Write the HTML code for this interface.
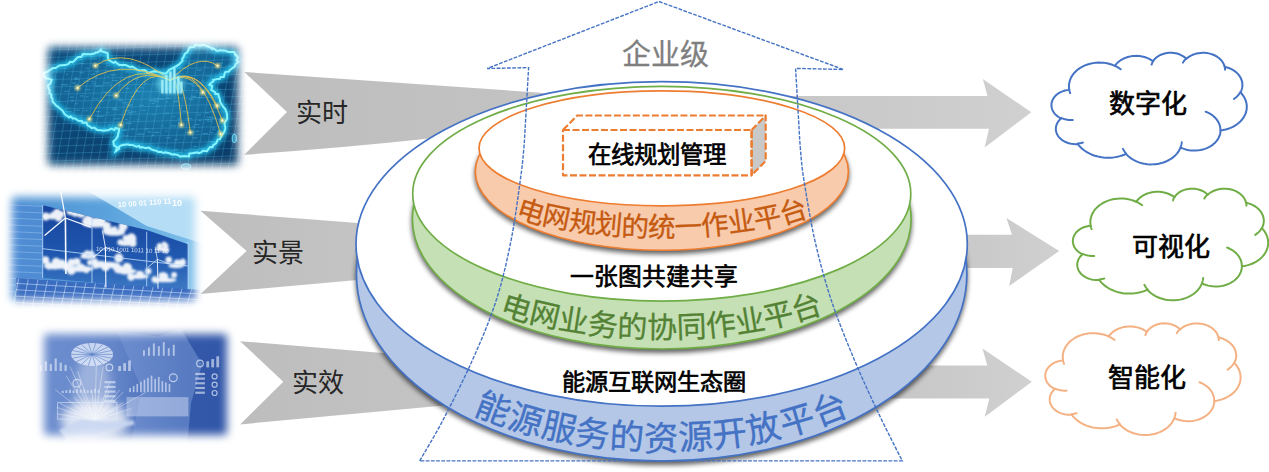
<!DOCTYPE html>
<html lang="zh-CN"><head><meta charset="utf-8"><title>diagram</title>
<style>
html,body{margin:0;padding:0;background:#fff;}
body{width:1269px;height:472px;overflow:hidden;position:relative;font-family:"Liberation Sans",sans-serif;}
svg{position:absolute;left:0;top:0;display:block;}
text{font-family:"Liberation Sans",sans-serif;}
.b{stroke:#000;stroke-width:.68px;stroke-linejoin:round;}
</style></head><body>
<svg width="1269" height="472" viewBox="0 0 1269 472">
<defs>
<filter id="sh" x="-10%" y="-10%" width="120%" height="130%"><feGaussianBlur stdDeviation="2.8"/></filter>
<filter id="feather" x="-10%" y="-10%" width="120%" height="120%"><feGaussianBlur stdDeviation="3.2"/></filter>
<linearGradient id="gl" x1="0" x2="1" y1="0" y2="0"><stop offset="0" stop-color="#bdbdbd"/><stop offset="1" stop-color="#c6c6c6"/></linearGradient>
<linearGradient id="gr" x1="0" x2="1" y1="0" y2="0"><stop offset="0" stop-color="#c4c4c4"/><stop offset="1" stop-color="#d0d0d0"/></linearGradient>
</defs>

<defs>
<filter id="f5" x="-10%" y="-10%" width="120%" height="120%"><feGaussianBlur stdDeviation="4"/></filter>
<filter id="b0" x="-10%" y="-10%" width="120%" height="120%"><feGaussianBlur stdDeviation=".5"/></filter>
<filter id="b1" x="-20%" y="-20%" width="140%" height="140%"><feGaussianBlur stdDeviation="1.2"/></filter>
<filter id="b2" x="-30%" y="-30%" width="160%" height="160%"><feGaussianBlur stdDeviation="2.5"/></filter>
<filter id="b4" x="-30%" y="-30%" width="160%" height="160%"><feGaussianBlur stdDeviation="5"/></filter>
<mask id="m1"><rect x="48" y="47" width="190" height="118" rx="3" fill="#fff" filter="url(#f5)"/></mask>
<mask id="m2"><rect x="12" y="197" width="183" height="103" rx="3" fill="#fff" filter="url(#f5)"/></mask>
<mask id="m3"><rect x="44" y="334" width="183" height="101" rx="3" fill="#fff" filter="url(#f5)"/></mask>
<linearGradient id="p1bg" x1="0" y1="0" x2="1" y2="1"><stop offset="0" stop-color="#0d4f80"/><stop offset=".5" stop-color="#0c4574"/><stop offset="1" stop-color="#0a3a66"/></linearGradient>
<radialGradient id="p1in" cx=".55" cy=".45" r=".6"><stop offset="0" stop-color="#1c80b0"/><stop offset="1" stop-color="#105a8a"/></radialGradient>
<linearGradient id="p2bg" x1="0" y1="0" x2="1" y2="0"><stop offset="0" stop-color="#4c8ed2"/><stop offset=".5" stop-color="#5aa2dc"/><stop offset="1" stop-color="#86c6ee"/></linearGradient>
<linearGradient id="p2sky" x1="0" y1="0" x2="0" y2="1"><stop offset="0" stop-color="#17449c"/><stop offset=".6" stop-color="#2058b0"/><stop offset="1" stop-color="#3f7cc6"/></linearGradient>
<linearGradient id="p3bg" x1="0" y1="0" x2="1" y2="0"><stop offset="0" stop-color="#6f90d0"/><stop offset=".4" stop-color="#6485c8"/><stop offset=".72" stop-color="#3c61b0"/><stop offset="1" stop-color="#3358a8"/></linearGradient>
</defs>
<g mask="url(#m1)">
<rect x="36" y="36" width="214" height="140" fill="url(#p1bg)"/>
<path d="M43.6 73.2 L48.1 71.4 L53.0 68.0 L55.5 68.1 L59.6 65.5 L65.0 65.1 L68.1 64.1 L70.0 61.8 L72.5 62.2 L74.6 60.4 L78.0 57.1 L81.2 57.0 L83.0 54.0 L87.9 54.2 L91.0 54.3 L94.5 53.5 L95.6 52.6 L97.7 52.5 L100.8 49.8 L101.3 51.1 L106.0 52.6 L107.6 53.3 L107.8 55.3 L107.8 57.6 L108.9 60.2 L111.2 61.5 L113.6 62.8 L115.1 61.8 L119.1 64.9 L122.7 64.9 L125.6 64.9 L129.9 66.9 L132.4 66.5 L137.9 70.0 L139.8 70.6 L144.6 70.1 L148.2 72.9 L153.7 71.3 L157.0 71.6 L161.2 72.7 L164.7 73.7 L166.6 73.0 L169.1 69.9 L171.8 68.5 L172.7 68.2 L175.8 66.2 L176.3 66.2 L179.0 64.4 L182.5 60.9 L182.3 58.8 L183.8 56.5 L184.6 54.1 L187.6 51.8 L188.2 50.4 L189.6 47.3 L194.1 46.9 L195.4 44.6 L197.5 45.1 L199.5 45.7 L204.1 44.7 L207.0 46.3 L209.6 47.0 L212.2 49.0 L212.8 48.2 L217.5 51.1 L219.4 50.2 L223.2 50.4 L225.6 50.8 L228.6 52.1 L231.4 52.0 L234.2 52.1 L235.3 55.1 L236.1 54.8 L237.9 57.3 L236.6 60.2 L238.4 61.7 L235.4 64.2 L234.8 66.5 L232.9 67.8 L229.5 70.5 L229.0 71.5 L225.2 72.1 L224.6 73.8 L223.8 77.0 L220.7 77.0 L219.9 78.9 L217.4 79.1 L213.1 80.0 L213.4 81.4 L210.7 83.3 L209.4 84.7 L212.2 86.0 L211.3 90.1 L215.1 92.2 L215.4 94.1 L218.2 94.1 L219.2 97.7 L220.0 99.4 L220.0 101.4 L220.8 103.1 L223.2 106.7 L225.3 109.0 L227.0 113.7 L227.1 117.2 L227.0 119.3 L224.7 122.7 L224.6 124.5 L225.4 128.1 L224.3 132.2 L223.3 133.0 L220.9 136.9 L220.0 139.2 L217.7 139.6 L216.2 143.2 L213.2 145.1 L212.7 147.1 L210.0 147.0 L207.0 151.2 L203.0 150.7 L201.1 152.3 L199.0 153.2 L197.0 152.4 L192.1 153.2 L189.3 153.6 L189.1 156.4 L184.3 156.1 L182.4 156.3 L180.1 156.5 L178.2 155.1 L174.7 154.3 L171.5 154.4 L170.1 153.4 L165.5 152.4 L163.3 153.0 L161.4 151.9 L158.5 152.1 L155.5 150.4 L153.7 150.3 L151.5 149.3 L148.7 147.6 L145.9 148.3 L141.7 147.1 L140.2 147.8 L139.1 146.0 L136.5 146.6 L132.3 144.9 L129.5 145.1 L128.4 144.5 L126.8 144.5 L124.7 144.8 L121.0 145.5 L119.0 146.7 L119.2 148.8 L115.6 151.3 L117.0 147.5 L113.9 145.4 L113.3 141.4 L115.9 139.2 L117.7 136.3 L118.4 132.7 L118.8 132.0 L119.2 128.9 L119.8 129.2 L115.5 128.0 L114.3 129.9 L111.0 128.6 L108.5 130.3 L107.4 130.2 L103.9 130.7 L100.9 130.3 L97.2 130.0 L96.6 129.3 L94.0 127.6 L91.9 128.2 L89.9 126.6 L87.4 125.4 L86.5 122.6 L82.4 122.7 L82.1 121.1 L78.4 120.7 L75.2 118.5 L72.8 118.4 L70.6 116.4 L69.2 117.4 L66.1 115.2 L64.5 114.1 L62.9 111.1 L60.0 108.4 L58.7 107.4 L55.9 105.4 L54.8 104.0 L52.9 102.1 L52.3 98.6 L51.3 97.2 L51.2 94.5 L49.3 93.0 L49.8 90.2 L49.0 89.7 L47.8 85.7 L48.2 85.1 L50.3 83.7 L51.8 79.8 L48.0 78.6 L46.0 78.5 L45.9 77.7 L44.1 76.5 L44.0 74.1 Z" fill="url(#p1in)"/>
<path d="M13.2 36 L-10.8 176 M21.4 36 L-2.6 176 M29.6 36 L5.6 176 M37.8 36 L13.8 176 M46.0 36 L22.0 176 M54.2 36 L30.2 176 M62.4 36 L38.4 176 M70.6 36 L46.6 176 M78.8 36 L54.8 176 M87.0 36 L63.0 176 M95.2 36 L71.2 176 M103.4 36 L79.4 176 M111.6 36 L87.6 176 M119.8 36 L95.8 176 M128.0 36 L104.0 176 M136.2 36 L112.2 176 M144.4 36 L120.4 176 M152.6 36 L128.6 176 M160.8 36 L136.8 176 M169.0 36 L145.0 176 M177.2 36 L153.2 176 M185.4 36 L161.4 176 M193.6 36 L169.6 176 M201.8 36 L177.8 176 M210.0 36 L186.0 176 M218.2 36 L194.2 176 M226.4 36 L202.4 176 M234.6 36 L210.6 176 M242.8 36 L218.8 176 M251.0 36 L227.0 176 M259.2 36 L235.2 176 M267.4 36 L243.4 176 M275.6 36 L251.6 176 M283.8 36 L259.8 176 M292.0 36 L268.0 176 M300.2 36 L276.2 176 M308.4 36 L284.4 176 M316.6 36 L292.6 176 M36 43.0 L250 37.0 M36 50.4 L250 44.4 M36 57.8 L250 51.8 M36 65.2 L250 59.2 M36 72.6 L250 66.6 M36 80.0 L250 74.0 M36 87.4 L250 81.4 M36 94.8 L250 88.8 M36 102.2 L250 96.2 M36 109.6 L250 103.6 M36 117.0 L250 111.0 M36 124.4 L250 118.4 M36 131.8 L250 125.8 M36 139.2 L250 133.2 M36 146.6 L250 140.6 M36 154.0 L250 148.0 M36 161.4 L250 155.4 M36 168.8 L250 162.8 M36 176.2 L250 170.2 M36 183.6 L250 177.6" stroke="#4fb4e0" stroke-opacity=".42" stroke-width=".7" fill="none"/>
<path d="M187.6 64.0h2.5 M205.9 85.6h3.8 M161.6 125.9h2.0 M118.6 100.8h4.4 M96.8 116.4h6.8 M128.4 112.2h2.6 M108.1 124.9h2.6 M215.3 150.4h2.5 M224.7 94.3h5.9 M192.5 86.0h5.4 M174.5 139.6h3.3 M192.0 155.9h5.4 M153.8 66.9h4.5 M121.6 130.4h5.4 M159.1 74.1h5.2 M170.4 73.8h6.4 M174.7 67.9h6.7 M84.7 89.8h5.6 M164.6 113.3h5.2 M140.1 87.8h2.9 M72.0 130.2h5.8 M155.0 132.7h3.8 M106.5 95.3h6.4 M67.4 108.0h3.2 M194.6 92.2h3.7 M130.6 111.9h5.9 M121.8 143.9h2.6 M107.3 65.5h2.6 M196.3 131.4h2.9 M93.1 98.7h5.7 M202.8 133.6h5.0 M85.6 96.8h3.0 M152.3 114.7h3.0 M103.8 137.1h2.2 M200.6 148.6h6.7 M127.1 113.0h4.9 M170.9 157.6h5.4 M112.4 145.3h4.4 M165.2 131.3h2.0 M194.8 124.5h4.5 M151.6 103.4h3.0 M152.7 58.9h4.5 M173.0 101.6h4.8 M227.8 148.7h2.7 M198.7 120.4h2.3 M123.0 79.5h2.4 M154.3 152.6h3.6 M212.3 127.9h2.7 M210.2 118.1h6.6 M185.3 132.7h3.7 M201.2 152.8h6.3 M136.5 134.5h4.4 M79.1 59.5h2.4 M95.1 71.9h4.5 M182.4 111.4h4.1 M173.6 87.0h4.3 M192.5 97.2h2.9 M217.4 130.6h3.8 M124.9 110.6h5.0 M99.2 55.3h3.0 M197.1 70.1h4.3 M94.2 77.0h2.9 M130.7 72.7h2.1 M79.3 72.7h4.5 M70.5 57.4h4.2 M131.4 128.9h2.3 M130.6 96.6h2.1 M229.0 78.0h2.5 M143.1 72.3h5.1 M120.6 68.0h2.3 M187.3 83.9h5.9 M141.4 153.0h3.5 M103.7 82.9h6.1 M170.1 91.2h2.5 M179.4 156.8h5.0 M60.6 58.2h2.5 M89.8 58.8h2.3 M174.5 149.5h3.0 M230.4 105.1h6.0 M220.5 153.7h2.2 M113.3 118.7h6.7 M75.4 85.8h6.2 M80.1 95.9h3.7 M179.0 152.5h2.9 M189.5 132.1h6.2 M156.8 152.0h3.8 M132.6 79.1h5.9 M144.1 83.3h2.8 M186.1 118.6h5.6 M127.7 106.1h2.8 M184.4 57.4h4.3 M192.7 126.1h2.5 M101.5 143.6h5.2 M213.7 146.6h4.2 M217.0 132.0h3.7 M124.8 62.6h4.0 M227.2 66.0h4.8 M79.3 63.5h5.2 M102.1 60.1h2.8 M172.8 116.5h2.1 M100.2 156.6h3.1 M158.4 99.1h5.9 M165.8 137.8h4.7 M92.9 73.6h2.4 M204.5 66.8h2.1 M229.1 75.9h6.5 M75.0 103.8h3.1 M205.2 119.6h5.2 M193.2 146.5h3.7 M165.5 101.8h2.6 M206.2 117.4h6.1 M96.0 111.6h4.3 M187.4 63.1h3.7 M144.8 62.5h4.8 M188.7 99.4h5.2 M166.0 77.5h3.8 M234.3 90.2h4.2 M74.7 77.9h2.8 M222.9 131.3h6.4 M232.7 119.3h6.7 M153.8 99.0h6.7 M218.0 154.7h4.4 M195.4 97.7h7.0 M221.1 85.7h6.7 M92.3 65.1h5.6 M111.5 109.5h5.2 M67.1 133.2h3.4 M135.7 91.2h5.7 M190.7 85.2h2.5 M112.4 98.2h2.4 M86.8 135.1h5.5 M230.9 157.9h6.4 M125.2 71.9h3.6 M141.1 110.2h4.7 M122.9 144.5h3.4 M141.1 148.1h6.0 M112.0 80.5h6.0 M61.8 68.8h4.7 M153.8 72.4h2.3 M95.7 135.8h4.3 M231.4 137.5h6.9 M66.1 74.4h2.1 M135.7 90.5h2.3 M155.6 64.9h3.6 M103.3 139.2h4.1 M105.6 59.6h4.1 M169.8 125.9h6.6 M201.5 81.0h2.7 M192.7 137.9h4.5 M205.4 112.9h3.4 M89.5 56.8h5.2 M217.0 150.1h4.3 M176.5 152.5h6.1 M165.5 98.5h4.6 M89.9 74.2h5.4 M233.6 112.4h4.0 M121.6 102.8h6.0 M139.2 155.7h2.8 M115.1 109.8h4.1 M208.9 141.9h6.7 M167.2 58.2h4.9 M156.2 106.2h3.4 M184.1 150.7h2.5 M177.0 94.0h4.6 M216.7 155.8h5.2 M94.1 151.7h2.9 M127.1 142.0h3.6 M107.4 154.7h6.7 M115.5 96.2h3.4 M83.0 81.3h6.9 M73.9 79.1h3.0 M73.9 110.3h5.7 M206.7 121.3h6.1 M60.9 84.6h6.8 M72.1 83.1h4.4 M106.9 112.3h2.2 M101.3 155.5h2.7 M218.5 73.7h7.0 M178.1 122.9h2.7 M69.6 134.7h2.9 M93.2 141.4h6.4 M68.5 155.9h4.7 M126.9 66.2h3.9 M232.8 84.5h2.7 M85.4 68.3h3.8 M220.1 63.1h3.0 M224.4 159.7h6.9 M103.0 92.2h6.8 M144.9 128.9h3.6 M63.7 91.3h5.7 M196.8 114.7h4.3 M154.2 101.4h4.7 M205.8 76.0h5.0 M223.2 144.1h2.9 M228.6 143.2h2.8 M106.5 76.2h2.3 M231.2 98.0h6.4 M80.0 56.5h6.3 M199.0 159.1h5.4 M151.9 135.4h2.5 M154.6 101.3h2.7 M165.1 88.9h4.5 M125.4 88.4h3.8 M165.2 158.0h6.7 M210.9 142.7h3.4 M230.9 83.3h2.6 M147.6 131.9h3.7 M172.9 84.7h6.8 M139.3 105.2h4.7 M213.1 158.6h4.6 M137.3 119.9h2.3 M134.5 144.0h5.9 M70.4 144.7h3.9 M231.7 93.5h3.1 M156.0 147.8h4.2 M211.8 129.7h3.8 M112.6 108.1h4.0 M125.2 123.4h6.4 M162.3 70.4h3.1 M124.9 119.5h2.7 M74.3 88.7h3.4 M65.2 111.6h6.6 M153.5 132.4h6.1 M206.6 150.9h4.2 M179.4 67.7h6.4 M126.2 104.9h6.5 M110.2 74.9h6.1 M164.8 63.9h2.1 M121.5 55.8h6.2 M92.1 83.8h3.9 M149.6 100.4h5.1 M175.5 100.8h2.5 M231.3 127.6h2.4 M137.3 134.1h7.0 M71.6 56.0h4.4 M133.9 148.9h6.1 M118.0 99.0h4.9 M214.7 76.2h4.0 M75.5 122.3h2.1 M223.6 110.0h4.9 M74.9 79.4h4.3 M210.0 111.6h3.4 M231.9 124.5h4.6 M95.4 86.3h6.5 M83.3 110.8h5.1 M122.1 135.7h6.5 M210.1 132.5h3.0 M70.5 100.4h3.6 M93.9 146.5h3.1 M204.0 153.5h2.6 M219.9 96.7h3.1 M92.6 59.0h4.5 M127.3 144.4h6.2 M70.0 97.1h3.9 M91.1 81.3h3.3 M181.5 90.7h2.6 M98.6 101.4h4.8 M103.0 128.5h3.1 M177.4 119.0h2.9 M191.4 96.4h4.7" stroke="#59c8f0" stroke-opacity=".35" stroke-width="1.1" fill="none" clip-path="url(#cc)"/>
<clipPath id="cc"><path d="M43.6 73.2 L48.1 71.4 L53.0 68.0 L55.5 68.1 L59.6 65.5 L65.0 65.1 L68.1 64.1 L70.0 61.8 L72.5 62.2 L74.6 60.4 L78.0 57.1 L81.2 57.0 L83.0 54.0 L87.9 54.2 L91.0 54.3 L94.5 53.5 L95.6 52.6 L97.7 52.5 L100.8 49.8 L101.3 51.1 L106.0 52.6 L107.6 53.3 L107.8 55.3 L107.8 57.6 L108.9 60.2 L111.2 61.5 L113.6 62.8 L115.1 61.8 L119.1 64.9 L122.7 64.9 L125.6 64.9 L129.9 66.9 L132.4 66.5 L137.9 70.0 L139.8 70.6 L144.6 70.1 L148.2 72.9 L153.7 71.3 L157.0 71.6 L161.2 72.7 L164.7 73.7 L166.6 73.0 L169.1 69.9 L171.8 68.5 L172.7 68.2 L175.8 66.2 L176.3 66.2 L179.0 64.4 L182.5 60.9 L182.3 58.8 L183.8 56.5 L184.6 54.1 L187.6 51.8 L188.2 50.4 L189.6 47.3 L194.1 46.9 L195.4 44.6 L197.5 45.1 L199.5 45.7 L204.1 44.7 L207.0 46.3 L209.6 47.0 L212.2 49.0 L212.8 48.2 L217.5 51.1 L219.4 50.2 L223.2 50.4 L225.6 50.8 L228.6 52.1 L231.4 52.0 L234.2 52.1 L235.3 55.1 L236.1 54.8 L237.9 57.3 L236.6 60.2 L238.4 61.7 L235.4 64.2 L234.8 66.5 L232.9 67.8 L229.5 70.5 L229.0 71.5 L225.2 72.1 L224.6 73.8 L223.8 77.0 L220.7 77.0 L219.9 78.9 L217.4 79.1 L213.1 80.0 L213.4 81.4 L210.7 83.3 L209.4 84.7 L212.2 86.0 L211.3 90.1 L215.1 92.2 L215.4 94.1 L218.2 94.1 L219.2 97.7 L220.0 99.4 L220.0 101.4 L220.8 103.1 L223.2 106.7 L225.3 109.0 L227.0 113.7 L227.1 117.2 L227.0 119.3 L224.7 122.7 L224.6 124.5 L225.4 128.1 L224.3 132.2 L223.3 133.0 L220.9 136.9 L220.0 139.2 L217.7 139.6 L216.2 143.2 L213.2 145.1 L212.7 147.1 L210.0 147.0 L207.0 151.2 L203.0 150.7 L201.1 152.3 L199.0 153.2 L197.0 152.4 L192.1 153.2 L189.3 153.6 L189.1 156.4 L184.3 156.1 L182.4 156.3 L180.1 156.5 L178.2 155.1 L174.7 154.3 L171.5 154.4 L170.1 153.4 L165.5 152.4 L163.3 153.0 L161.4 151.9 L158.5 152.1 L155.5 150.4 L153.7 150.3 L151.5 149.3 L148.7 147.6 L145.9 148.3 L141.7 147.1 L140.2 147.8 L139.1 146.0 L136.5 146.6 L132.3 144.9 L129.5 145.1 L128.4 144.5 L126.8 144.5 L124.7 144.8 L121.0 145.5 L119.0 146.7 L119.2 148.8 L115.6 151.3 L117.0 147.5 L113.9 145.4 L113.3 141.4 L115.9 139.2 L117.7 136.3 L118.4 132.7 L118.8 132.0 L119.2 128.9 L119.8 129.2 L115.5 128.0 L114.3 129.9 L111.0 128.6 L108.5 130.3 L107.4 130.2 L103.9 130.7 L100.9 130.3 L97.2 130.0 L96.6 129.3 L94.0 127.6 L91.9 128.2 L89.9 126.6 L87.4 125.4 L86.5 122.6 L82.4 122.7 L82.1 121.1 L78.4 120.7 L75.2 118.5 L72.8 118.4 L70.6 116.4 L69.2 117.4 L66.1 115.2 L64.5 114.1 L62.9 111.1 L60.0 108.4 L58.7 107.4 L55.9 105.4 L54.8 104.0 L52.9 102.1 L52.3 98.6 L51.3 97.2 L51.2 94.5 L49.3 93.0 L49.8 90.2 L49.0 89.7 L47.8 85.7 L48.2 85.1 L50.3 83.7 L51.8 79.8 L48.0 78.6 L46.0 78.5 L45.9 77.7 L44.1 76.5 L44.0 74.1 Z"/></clipPath>
<path d="M43.6 73.2 L48.1 71.4 L53.0 68.0 L55.5 68.1 L59.6 65.5 L65.0 65.1 L68.1 64.1 L70.0 61.8 L72.5 62.2 L74.6 60.4 L78.0 57.1 L81.2 57.0 L83.0 54.0 L87.9 54.2 L91.0 54.3 L94.5 53.5 L95.6 52.6 L97.7 52.5 L100.8 49.8 L101.3 51.1 L106.0 52.6 L107.6 53.3 L107.8 55.3 L107.8 57.6 L108.9 60.2 L111.2 61.5 L113.6 62.8 L115.1 61.8 L119.1 64.9 L122.7 64.9 L125.6 64.9 L129.9 66.9 L132.4 66.5 L137.9 70.0 L139.8 70.6 L144.6 70.1 L148.2 72.9 L153.7 71.3 L157.0 71.6 L161.2 72.7 L164.7 73.7 L166.6 73.0 L169.1 69.9 L171.8 68.5 L172.7 68.2 L175.8 66.2 L176.3 66.2 L179.0 64.4 L182.5 60.9 L182.3 58.8 L183.8 56.5 L184.6 54.1 L187.6 51.8 L188.2 50.4 L189.6 47.3 L194.1 46.9 L195.4 44.6 L197.5 45.1 L199.5 45.7 L204.1 44.7 L207.0 46.3 L209.6 47.0 L212.2 49.0 L212.8 48.2 L217.5 51.1 L219.4 50.2 L223.2 50.4 L225.6 50.8 L228.6 52.1 L231.4 52.0 L234.2 52.1 L235.3 55.1 L236.1 54.8 L237.9 57.3 L236.6 60.2 L238.4 61.7 L235.4 64.2 L234.8 66.5 L232.9 67.8 L229.5 70.5 L229.0 71.5 L225.2 72.1 L224.6 73.8 L223.8 77.0 L220.7 77.0 L219.9 78.9 L217.4 79.1 L213.1 80.0 L213.4 81.4 L210.7 83.3 L209.4 84.7 L212.2 86.0 L211.3 90.1 L215.1 92.2 L215.4 94.1 L218.2 94.1 L219.2 97.7 L220.0 99.4 L220.0 101.4 L220.8 103.1 L223.2 106.7 L225.3 109.0 L227.0 113.7 L227.1 117.2 L227.0 119.3 L224.7 122.7 L224.6 124.5 L225.4 128.1 L224.3 132.2 L223.3 133.0 L220.9 136.9 L220.0 139.2 L217.7 139.6 L216.2 143.2 L213.2 145.1 L212.7 147.1 L210.0 147.0 L207.0 151.2 L203.0 150.7 L201.1 152.3 L199.0 153.2 L197.0 152.4 L192.1 153.2 L189.3 153.6 L189.1 156.4 L184.3 156.1 L182.4 156.3 L180.1 156.5 L178.2 155.1 L174.7 154.3 L171.5 154.4 L170.1 153.4 L165.5 152.4 L163.3 153.0 L161.4 151.9 L158.5 152.1 L155.5 150.4 L153.7 150.3 L151.5 149.3 L148.7 147.6 L145.9 148.3 L141.7 147.1 L140.2 147.8 L139.1 146.0 L136.5 146.6 L132.3 144.9 L129.5 145.1 L128.4 144.5 L126.8 144.5 L124.7 144.8 L121.0 145.5 L119.0 146.7 L119.2 148.8 L115.6 151.3 L117.0 147.5 L113.9 145.4 L113.3 141.4 L115.9 139.2 L117.7 136.3 L118.4 132.7 L118.8 132.0 L119.2 128.9 L119.8 129.2 L115.5 128.0 L114.3 129.9 L111.0 128.6 L108.5 130.3 L107.4 130.2 L103.9 130.7 L100.9 130.3 L97.2 130.0 L96.6 129.3 L94.0 127.6 L91.9 128.2 L89.9 126.6 L87.4 125.4 L86.5 122.6 L82.4 122.7 L82.1 121.1 L78.4 120.7 L75.2 118.5 L72.8 118.4 L70.6 116.4 L69.2 117.4 L66.1 115.2 L64.5 114.1 L62.9 111.1 L60.0 108.4 L58.7 107.4 L55.9 105.4 L54.8 104.0 L52.9 102.1 L52.3 98.6 L51.3 97.2 L51.2 94.5 L49.3 93.0 L49.8 90.2 L49.0 89.7 L47.8 85.7 L48.2 85.1 L50.3 83.7 L51.8 79.8 L48.0 78.6 L46.0 78.5 L45.9 77.7 L44.1 76.5 L44.0 74.1 Z" fill="none" stroke="#25d6ff" stroke-width="6" stroke-opacity=".8" filter="url(#b2)"/>
<path d="M43.6 73.2 L48.1 71.4 L53.0 68.0 L55.5 68.1 L59.6 65.5 L65.0 65.1 L68.1 64.1 L70.0 61.8 L72.5 62.2 L74.6 60.4 L78.0 57.1 L81.2 57.0 L83.0 54.0 L87.9 54.2 L91.0 54.3 L94.5 53.5 L95.6 52.6 L97.7 52.5 L100.8 49.8 L101.3 51.1 L106.0 52.6 L107.6 53.3 L107.8 55.3 L107.8 57.6 L108.9 60.2 L111.2 61.5 L113.6 62.8 L115.1 61.8 L119.1 64.9 L122.7 64.9 L125.6 64.9 L129.9 66.9 L132.4 66.5 L137.9 70.0 L139.8 70.6 L144.6 70.1 L148.2 72.9 L153.7 71.3 L157.0 71.6 L161.2 72.7 L164.7 73.7 L166.6 73.0 L169.1 69.9 L171.8 68.5 L172.7 68.2 L175.8 66.2 L176.3 66.2 L179.0 64.4 L182.5 60.9 L182.3 58.8 L183.8 56.5 L184.6 54.1 L187.6 51.8 L188.2 50.4 L189.6 47.3 L194.1 46.9 L195.4 44.6 L197.5 45.1 L199.5 45.7 L204.1 44.7 L207.0 46.3 L209.6 47.0 L212.2 49.0 L212.8 48.2 L217.5 51.1 L219.4 50.2 L223.2 50.4 L225.6 50.8 L228.6 52.1 L231.4 52.0 L234.2 52.1 L235.3 55.1 L236.1 54.8 L237.9 57.3 L236.6 60.2 L238.4 61.7 L235.4 64.2 L234.8 66.5 L232.9 67.8 L229.5 70.5 L229.0 71.5 L225.2 72.1 L224.6 73.8 L223.8 77.0 L220.7 77.0 L219.9 78.9 L217.4 79.1 L213.1 80.0 L213.4 81.4 L210.7 83.3 L209.4 84.7 L212.2 86.0 L211.3 90.1 L215.1 92.2 L215.4 94.1 L218.2 94.1 L219.2 97.7 L220.0 99.4 L220.0 101.4 L220.8 103.1 L223.2 106.7 L225.3 109.0 L227.0 113.7 L227.1 117.2 L227.0 119.3 L224.7 122.7 L224.6 124.5 L225.4 128.1 L224.3 132.2 L223.3 133.0 L220.9 136.9 L220.0 139.2 L217.7 139.6 L216.2 143.2 L213.2 145.1 L212.7 147.1 L210.0 147.0 L207.0 151.2 L203.0 150.7 L201.1 152.3 L199.0 153.2 L197.0 152.4 L192.1 153.2 L189.3 153.6 L189.1 156.4 L184.3 156.1 L182.4 156.3 L180.1 156.5 L178.2 155.1 L174.7 154.3 L171.5 154.4 L170.1 153.4 L165.5 152.4 L163.3 153.0 L161.4 151.9 L158.5 152.1 L155.5 150.4 L153.7 150.3 L151.5 149.3 L148.7 147.6 L145.9 148.3 L141.7 147.1 L140.2 147.8 L139.1 146.0 L136.5 146.6 L132.3 144.9 L129.5 145.1 L128.4 144.5 L126.8 144.5 L124.7 144.8 L121.0 145.5 L119.0 146.7 L119.2 148.8 L115.6 151.3 L117.0 147.5 L113.9 145.4 L113.3 141.4 L115.9 139.2 L117.7 136.3 L118.4 132.7 L118.8 132.0 L119.2 128.9 L119.8 129.2 L115.5 128.0 L114.3 129.9 L111.0 128.6 L108.5 130.3 L107.4 130.2 L103.9 130.7 L100.9 130.3 L97.2 130.0 L96.6 129.3 L94.0 127.6 L91.9 128.2 L89.9 126.6 L87.4 125.4 L86.5 122.6 L82.4 122.7 L82.1 121.1 L78.4 120.7 L75.2 118.5 L72.8 118.4 L70.6 116.4 L69.2 117.4 L66.1 115.2 L64.5 114.1 L62.9 111.1 L60.0 108.4 L58.7 107.4 L55.9 105.4 L54.8 104.0 L52.9 102.1 L52.3 98.6 L51.3 97.2 L51.2 94.5 L49.3 93.0 L49.8 90.2 L49.0 89.7 L47.8 85.7 L48.2 85.1 L50.3 83.7 L51.8 79.8 L48.0 78.6 L46.0 78.5 L45.9 77.7 L44.1 76.5 L44.0 74.1 Z" fill="none" stroke="#86f3ff" stroke-width="2"/>
<ellipse cx="185.9" cy="166.6" rx="4.7" ry="2.7" fill="#1a80b0" stroke="#5fe6ff" stroke-width="1"/>
<ellipse cx="234.3" cy="138.4" rx="2.1" ry="4.2" fill="#1a80b0" stroke="#5fe6ff" stroke-width="1"/>
<path d="M170.2 80.5 Q126.8 44.3 95.4 65.7 M170.2 80.5 Q116.5 54.5 77.6 87.9 M170.2 80.5 Q138.8 64.8 116.1 95.4 M170.2 80.5 Q123.3 55.5 89.4 119.1 M170.2 80.5 Q141.4 61.9 120.6 125.0 M170.2 80.5 Q176.7 67.7 181.4 125.0 M170.2 80.5 Q181.9 64.9 190.3 132.5 M170.2 80.5 Q199.4 59.9 220.6 134.0 M170.2 80.5 Q200.5 62.1 222.4 120.6 M170.2 80.5 Q197.4 65.6 217.1 105.8 M170.2 80.5 Q189.1 70.8 202.8 92.4 M170.2 80.5 Q197.7 51.8 217.7 65.7" fill="none" stroke="#e6c24a" stroke-width=".9" stroke-opacity=".95"/>
<circle cx="95.4" cy="65.7" r="2.6" fill="#ffe680" opacity=".8" filter="url(#b1)"/><circle cx="95.4" cy="65.7" r="1" fill="#fffbe0"/>
<circle cx="77.6" cy="87.9" r="2.6" fill="#ffe680" opacity=".8" filter="url(#b1)"/><circle cx="77.6" cy="87.9" r="1" fill="#fffbe0"/>
<circle cx="116.1" cy="95.4" r="2.6" fill="#ffe680" opacity=".8" filter="url(#b1)"/><circle cx="116.1" cy="95.4" r="1" fill="#fffbe0"/>
<circle cx="89.4" cy="119.1" r="2.6" fill="#ffe680" opacity=".8" filter="url(#b1)"/><circle cx="89.4" cy="119.1" r="1" fill="#fffbe0"/>
<circle cx="120.6" cy="125.0" r="2.6" fill="#ffe680" opacity=".8" filter="url(#b1)"/><circle cx="120.6" cy="125.0" r="1" fill="#fffbe0"/>
<circle cx="181.4" cy="125.0" r="2.6" fill="#ffe680" opacity=".8" filter="url(#b1)"/><circle cx="181.4" cy="125.0" r="1" fill="#fffbe0"/>
<circle cx="190.3" cy="132.5" r="2.6" fill="#ffe680" opacity=".8" filter="url(#b1)"/><circle cx="190.3" cy="132.5" r="1" fill="#fffbe0"/>
<circle cx="220.6" cy="134.0" r="2.6" fill="#ffe680" opacity=".8" filter="url(#b1)"/><circle cx="220.6" cy="134.0" r="1" fill="#fffbe0"/>
<circle cx="222.4" cy="120.6" r="2.6" fill="#ffe680" opacity=".8" filter="url(#b1)"/><circle cx="222.4" cy="120.6" r="1" fill="#fffbe0"/>
<circle cx="217.1" cy="105.8" r="2.6" fill="#ffe680" opacity=".8" filter="url(#b1)"/><circle cx="217.1" cy="105.8" r="1" fill="#fffbe0"/>
<circle cx="202.8" cy="92.4" r="2.6" fill="#ffe680" opacity=".8" filter="url(#b1)"/><circle cx="202.8" cy="92.4" r="1" fill="#fffbe0"/>
<circle cx="217.7" cy="65.7" r="2.6" fill="#ffe680" opacity=".8" filter="url(#b1)"/><circle cx="217.7" cy="65.7" r="1" fill="#fffbe0"/>
<ellipse cx="170.2" cy="83.5" rx="14" ry="11" fill="#7ef0ff" opacity=".55" filter="url(#b2)"/>
<rect x="161.2" y="79.9" width="2.4" height="13.6" fill="#a8f4ff" opacity=".85"/>
<rect x="165.2" y="74.8" width="2.4" height="18.7" fill="#a8f4ff" opacity=".85"/>
<rect x="169.2" y="71.4" width="2.4" height="22.1" fill="#a8f4ff" opacity=".85"/>
<rect x="173.2" y="68.0" width="2.4" height="25.5" fill="#a8f4ff" opacity=".85"/>
<rect x="177.2" y="76.5" width="2.4" height="17.0" fill="#a8f4ff" opacity=".85"/>
<rect x="180.2" y="81.6" width="2.4" height="11.9" fill="#a8f4ff" opacity=".85"/>
</g>
<g mask="url(#m2)">
<rect x="0" y="186" width="214" height="126" fill="url(#p2bg)"/>
<path d="M88.0 191.3 L202.8 191.3 L202.8 243.4 L146.7 226.0 Z" fill="#b5def6"/>
<path d="M5.3 202.0 L42.7 206.0 L42.7 298.1 L5.3 295.4 Z" fill="#4f8cd4"/>
<path d="M5.3 204.7 L42.7 206.3 M5.3 211.3 L42.7 212.9 M5.3 218.0 L42.7 219.6 M5.3 224.7 L42.7 226.3 M5.3 231.4 L42.7 233.0 M5.3 238.0 L42.7 239.6 M5.3 244.7 L42.7 246.3 M5.3 251.4 L42.7 253.0 M5.3 258.0 L42.7 259.6 M5.3 264.7 L42.7 266.3 M5.3 271.4 L42.7 273.0 M5.3 278.0 L42.7 279.6 M5.3 284.7 L42.7 286.3 M5.3 291.4 L42.7 293.0" stroke="#9cc8f0" stroke-opacity=".6" stroke-width=".8" fill="none"/>
<path d="M42.7 205.2 L146.7 230.0 L188.1 244.2 L188.1 292.7 L146.7 287.4 L42.7 278.0 Z" fill="url(#p2sky)"/>
<clipPath id="csky"><path d="M42.7 205.2 L146.7 230.0 L188.1 244.2 L188.1 292.7 L146.7 287.4 L42.7 278.0 Z"/></clipPath>
<g clip-path="url(#csky)"><g fill="#fff" opacity=".92" filter="url(#b1)"><circle cx="55.0" cy="215.2" r="3.3"/><circle cx="45.8" cy="216.6" r="4.1"/><circle cx="53.2" cy="214.7" r="3.0"/><circle cx="60.2" cy="215.7" r="3.0"/><circle cx="58.8" cy="218.4" r="3.2"/><circle cx="61.8" cy="213.9" r="2.9"/><circle cx="57.1" cy="212.6" r="3.8"/><ellipse cx="53.4" cy="216.6" rx="9.1" ry="2.8"/><circle cx="82.0" cy="204.9" r="3.7"/><circle cx="88.3" cy="208.5" r="3.8"/><circle cx="88.6" cy="208.2" r="3.7"/><circle cx="82.0" cy="211.8" r="3.1"/><circle cx="70.5" cy="211.2" r="3.8"/><circle cx="75.4" cy="212.4" r="4.4"/><circle cx="81.0" cy="213.4" r="4.3"/><ellipse cx="80.0" cy="211.5" rx="12.5" ry="3.0"/><circle cx="102.4" cy="218.3" r="3.2"/><circle cx="100.6" cy="223.3" r="4.0"/><circle cx="95.5" cy="221.4" r="3.8"/><circle cx="101.1" cy="221.4" r="4.0"/><circle cx="86.1" cy="221.3" r="3.9"/><circle cx="101.8" cy="217.0" r="4.1"/><circle cx="88.3" cy="219.7" r="4.5"/><ellipse cx="96.1" cy="224.0" rx="13.6" ry="3.5"/><circle cx="107.2" cy="225.7" r="3.6"/><circle cx="109.0" cy="230.1" r="3.1"/><circle cx="107.1" cy="230.4" r="4.5"/><circle cx="121.8" cy="230.2" r="3.5"/><circle cx="106.4" cy="227.9" r="3.3"/><circle cx="123.2" cy="226.3" r="4.5"/><circle cx="114.3" cy="229.4" r="3.2"/><ellipse cx="114.7" cy="232.8" rx="10.2" ry="3.0"/><circle cx="132.3" cy="237.9" r="3.6"/><circle cx="125.6" cy="238.0" r="3.0"/><circle cx="132.7" cy="243.3" r="3.8"/><circle cx="131.4" cy="237.1" r="3.8"/><circle cx="129.1" cy="238.2" r="3.4"/><circle cx="132.5" cy="239.1" r="3.9"/><circle cx="120.4" cy="242.2" r="3.0"/><ellipse cx="125.4" cy="243.3" rx="7.9" ry="2.8"/><circle cx="56.2" cy="262.1" r="4.4"/><circle cx="61.8" cy="263.4" r="4.0"/><circle cx="54.3" cy="266.3" r="3.2"/><circle cx="57.1" cy="264.2" r="3.5"/><circle cx="45.4" cy="260.2" r="3.9"/><circle cx="49.3" cy="265.9" r="3.7"/><circle cx="66.7" cy="266.7" r="4.1"/><ellipse cx="56.0" cy="266.2" rx="12.5" ry="3.0"/><circle cx="76.8" cy="261.7" r="3.8"/><circle cx="86.3" cy="270.1" r="3.1"/><circle cx="71.3" cy="270.7" r="4.1"/><circle cx="79.6" cy="268.3" r="3.0"/><circle cx="81.2" cy="267.7" r="3.9"/><circle cx="71.4" cy="262.6" r="3.9"/><circle cx="89.9" cy="262.6" r="2.8"/><ellipse cx="80.0" cy="268.8" rx="13.6" ry="3.0"/><circle cx="96.0" cy="265.0" r="3.7"/><circle cx="105.6" cy="267.1" r="4.1"/><circle cx="100.7" cy="264.1" r="2.9"/><circle cx="101.1" cy="264.1" r="3.3"/><circle cx="94.8" cy="262.2" r="3.6"/><circle cx="118.8" cy="258.0" r="4.5"/><circle cx="103.9" cy="265.2" r="3.8"/><ellipse cx="106.7" cy="265.0" rx="13.6" ry="3.2"/><circle cx="129.0" cy="267.2" r="3.0"/><circle cx="124.4" cy="271.4" r="3.2"/><circle cx="119.6" cy="268.0" r="2.7"/><circle cx="121.5" cy="269.4" r="3.5"/><circle cx="127.5" cy="266.8" r="2.6"/><circle cx="115.3" cy="267.3" r="2.9"/><circle cx="126.9" cy="266.6" r="3.9"/><ellipse cx="125.4" cy="271.3" rx="11.3" ry="2.8"/><circle cx="140.7" cy="275.3" r="3.4"/><circle cx="139.2" cy="273.5" r="2.8"/><circle cx="130.3" cy="276.4" r="3.1"/><circle cx="131.1" cy="277.5" r="3.2"/><circle cx="141.1" cy="273.6" r="2.5"/><circle cx="148.3" cy="271.4" r="2.9"/><circle cx="148.3" cy="271.0" r="3.1"/><ellipse cx="138.7" cy="276.4" rx="10.2" ry="2.5"/><circle cx="165.0" cy="276.3" r="3.3"/><circle cx="163.6" cy="274.6" r="2.7"/><circle cx="154.8" cy="279.5" r="3.2"/><circle cx="174.1" cy="274.9" r="2.9"/><circle cx="161.3" cy="277.9" r="2.4"/><circle cx="161.3" cy="275.5" r="2.9"/><circle cx="156.6" cy="281.3" r="2.1"/><ellipse cx="165.4" cy="280.1" rx="11.3" ry="2.2"/><circle cx="183.0" cy="260.9" r="2.4"/><circle cx="179.8" cy="263.6" r="3.5"/><circle cx="176.2" cy="264.4" r="2.4"/><circle cx="178.7" cy="263.5" r="3.8"/><circle cx="168.7" cy="259.9" r="3.3"/><circle cx="182.5" cy="262.7" r="3.4"/><circle cx="177.0" cy="262.5" r="3.0"/><ellipse cx="176.1" cy="265.7" rx="7.9" ry="2.5"/><circle cx="164.1" cy="244.0" r="2.4"/><circle cx="165.8" cy="245.7" r="2.7"/><circle cx="159.6" cy="246.4" r="2.9"/><circle cx="165.9" cy="250.6" r="2.7"/><circle cx="158.9" cy="246.2" r="2.1"/><circle cx="159.4" cy="248.0" r="2.9"/><circle cx="159.4" cy="245.1" r="2.2"/><ellipse cx="162.8" cy="249.4" rx="6.8" ry="2.2"/><circle cx="83.2" cy="255.4" r="1.9"/><circle cx="93.8" cy="255.7" r="2.0"/><circle cx="87.0" cy="252.7" r="2.5"/><circle cx="91.8" cy="254.6" r="2.5"/><circle cx="84.6" cy="253.8" r="1.9"/><circle cx="83.5" cy="256.0" r="2.4"/><circle cx="91.4" cy="253.1" r="2.5"/><ellipse cx="88.0" cy="257.1" rx="7.9" ry="1.8"/></g></g>
<path d="M42.7 205.2 L42.7 278.0 M92.0 217.8 L92.0 283.0 M146.7 231.7 L146.7 288.5 M188.1 242.3 L188.1 292.6 M42.7 248.7 L188.1 266.0" stroke="#bfe0fa" stroke-width="1" stroke-opacity=".8" fill="none"/>
<path d="M16.0 278.0 L202.8 290.1 L202.8 311.4 L16.0 311.4 Z" fill="#3a6cc0"/>
<path d="M18.7 278.8 L12.0 311.4 M28.3 279.4 L21.6 311.4 M37.9 280.0 L31.2 311.4 M47.5 280.6 L40.8 311.4 M57.1 281.2 L50.4 311.4 M66.7 281.8 L60.0 311.4 M76.3 282.4 L69.6 311.4 M85.9 283.0 L79.2 311.4 M95.5 283.5 L88.8 311.4 M105.1 284.1 L98.5 311.4 M114.7 284.7 L108.1 311.4 M124.3 285.3 L117.7 311.4 M133.9 285.9 L127.3 311.4 M143.5 286.5 L136.9 311.4 M153.1 287.1 L146.5 311.4 M162.8 287.7 L156.1 311.4 M172.4 288.2 L165.7 311.4 M182.0 288.8 L175.3 311.4 M191.6 289.4 L184.9 311.4 M201.2 290.0 L194.5 311.4 M16.0 283.4 L202.8 294.1 M16.0 289.8 L202.8 299.9 M16.0 296.2 L202.8 305.8 M16.0 302.6 L202.8 311.7" stroke="#dbeeff" stroke-width=".7" stroke-opacity=".75" fill="none"/>
<path d="M65.4 218.0 L65.9 274.0" stroke="#f4f8ff" stroke-width="1.6"/><path d="M65.4 218.0 L60.7 191.7" stroke="#f4f8ff" stroke-width="1.3" stroke-linecap="round"/><path d="M65.4 218.0 L90.4 227.1" stroke="#f4f8ff" stroke-width="1.3" stroke-linecap="round"/><path d="M65.4 218.0 L44.9 235.2" stroke="#f4f8ff" stroke-width="1.3" stroke-linecap="round"/>
<path d="M105.4 247.4 L105.9 287.4" stroke="#f4f8ff" stroke-width="1.1"/><path d="M105.4 247.4 L102.6 231.6" stroke="#f4f8ff" stroke-width="0.9" stroke-linecap="round"/><path d="M105.4 247.4 L120.4 252.8" stroke="#f4f8ff" stroke-width="0.9" stroke-linecap="round"/><path d="M105.4 247.4 L93.1 257.7" stroke="#f4f8ff" stroke-width="0.9" stroke-linecap="round"/>
<path d="M157.4 259.4 L158.0 288.7" stroke="#f4f8ff" stroke-width="0.9"/><path d="M157.4 259.4 L155.3 247.5" stroke="#f4f8ff" stroke-width="0.7" stroke-linecap="round"/><path d="M157.4 259.4 L168.7 263.5" stroke="#f4f8ff" stroke-width="0.7" stroke-linecap="round"/><path d="M157.4 259.4 L148.2 267.1" stroke="#f4f8ff" stroke-width="0.7" stroke-linecap="round"/>
<text x="118" y="205" font-size="7.5" fill="#fff" opacity=".95" font-weight="bold" transform="rotate(-4 150 205)">10 00 01 110 11</text><text x="172" y="206" font-size="9" fill="#fff" font-weight="bold">10</text>
<text x="96" y="252" font-size="6" fill="#fff" opacity=".8" transform="rotate(2 130 252)">10 010 1001 1011 10 11 10</text>
</g>
<g mask="url(#m3)">
<rect x="26" y="320" width="220" height="130" fill="url(#p3bg)"/>
<path d="M180.2 325.5 L235.3 325.5 L235.3 446.7 L185.7 446.7 L191.2 402.6 L202.2 364.1 Z" fill="#3156a6" opacity=".7"/>
<path d="M116.9 331.0 L158.2 336.5 L180.2 328.3 L202.2 364.1 L191.2 402.6 L187.1 446.7 L130.6 446.7 L141.6 388.8 Z" fill="#7d9bd6" opacity=".45"/>
<ellipse cx="94.8" cy="420.5" rx="34" ry="20" fill="#fff" opacity=".75" filter="url(#b4)"/>
<ellipse cx="92.8" cy="392.5" rx="18" ry="40" fill="#fff" opacity=".35" filter="url(#b4)"/>
<path d="M94.8 420.5 L57.2 413.9 M94.8 420.5 L56.9 407.4 M94.8 420.5 L60.0 403.4 M94.8 420.5 L55.3 389.8 M94.8 420.5 L73.8 396.7 M94.8 420.5 L66.2 375.9 M94.8 420.5 L70.0 366.6 M94.8 420.5 L77.7 371.2 M94.8 420.5 L92.0 391.4 M94.8 420.5 L96.4 362.4 M94.8 420.5 L103.2 366.2 M94.8 420.5 L109.5 383.1 M94.8 420.5 L109.0 391.2 M94.8 420.5 L119.9 389.6 M94.8 420.5 L123.4 391.8 M94.8 420.5 L123.4 402.3 M94.8 420.5 L145.8 392.4 M94.8 420.5 L131.4 408.5" stroke="#fff" stroke-opacity=".45" stroke-width=".8" fill="none"/>
<path d="M59.0 430.1 L81.1 419.1 L108.6 421.9 L133.4 420.5 L134.8 424.6 L108.6 430.1 L92.1 438.4 L67.3 441.1 Z" fill="#c9d7f2" opacity=".85" filter="url(#b1)"/>
<ellipse cx="92.1" cy="354.4" rx="21" ry="11.5" fill="#dfe8fa" opacity=".8"/>
<path d="M92.1 354.4 L113.1 354.4 M92.1 354.4 L111.8 358.3 M92.1 354.4 L108.2 361.8 M92.1 354.4 L102.6 364.4 M92.1 354.4 L95.7 365.7 M92.1 354.4 L88.4 365.7 M92.1 354.4 L81.6 364.4 M92.1 354.4 L76.0 361.8 M92.1 354.4 L72.3 358.3 M92.1 354.4 L71.1 354.4 M92.1 354.4 L72.3 350.5 M92.1 354.4 L76.0 347.0 M92.1 354.4 L81.6 344.5 M92.1 354.4 L88.4 343.1 M92.1 354.4 L95.7 343.1 M92.1 354.4 L102.6 344.5 M92.1 354.4 L108.2 347.0 M92.1 354.4 L111.8 350.5" stroke="#5b7fc6" stroke-width=".6" fill="none"/>
<g fill="#e4ecfb" opacity=".62" filter="url(#b0)"><rect x="39.8" y="365.4" width="2.2" height="5.5"/><rect x="44.7" y="361.3" width="2.2" height="9.6"/><rect x="49.7" y="364.1" width="2.2" height="6.9"/><rect x="54.6" y="358.5" width="2.2" height="12.4"/><rect x="59.6" y="362.7" width="2.2" height="8.3"/><rect x="64.5" y="364.9" width="2.2" height="6.1"/><rect x="118.2" y="366.0" width="2.8" height="5.0"/><rect x="123.2" y="363.2" width="2.8" height="7.7"/><rect x="128.1" y="360.5" width="2.8" height="10.5"/><rect x="143.0" y="350.3" width="1.9" height="5.5"/><rect x="148.0" y="347.5" width="1.9" height="8.3"/><rect x="152.9" y="343.4" width="1.9" height="12.4"/><rect x="157.9" y="346.2" width="1.9" height="9.6"/><rect x="162.8" y="342.0" width="1.9" height="13.8"/><rect x="167.8" y="348.1" width="1.9" height="7.7"/><rect x="172.8" y="344.8" width="1.9" height="11.0"/><rect x="129.2" y="388.0" width="1.7" height="4.1"/><rect x="132.8" y="386.1" width="1.7" height="6.1"/><rect x="136.4" y="383.9" width="1.7" height="8.3"/><rect x="140.0" y="381.7" width="1.7" height="10.5"/><rect x="143.6" y="379.7" width="1.7" height="12.4"/><rect x="147.1" y="377.8" width="1.7" height="14.3"/><rect x="150.7" y="375.6" width="1.7" height="16.5"/><rect x="154.3" y="378.9" width="1.7" height="13.2"/><rect x="157.9" y="377.0" width="1.7" height="15.1"/><rect x="161.5" y="381.1" width="1.7" height="11.0"/><rect x="165.0" y="382.5" width="1.7" height="9.6"/><rect x="168.6" y="383.9" width="1.7" height="8.3"/><rect x="206.3" y="361.3" width="2.8" height="6.1"/><rect x="211.3" y="359.1" width="2.8" height="8.3"/><rect x="216.3" y="356.3" width="2.8" height="11.0"/><rect x="61.8" y="390.8" width="1.9" height="2.2"/><rect x="65.4" y="390.2" width="1.9" height="2.8"/><rect x="69.0" y="389.7" width="1.9" height="3.3"/><rect x="72.5" y="390.5" width="1.9" height="2.5"/><rect x="76.1" y="389.1" width="1.9" height="3.9"/><rect x="79.7" y="389.9" width="1.9" height="3.0"/><rect x="83.3" y="389.4" width="1.9" height="3.6"/><rect x="86.8" y="390.2" width="1.9" height="2.8"/><rect x="90.4" y="389.7" width="1.9" height="3.3"/><rect x="94.0" y="388.8" width="1.9" height="4.1"/><rect x="97.6" y="389.9" width="1.9" height="3.0"/><rect x="104.5" y="381.1" width="11.0" height="2.2"/><rect x="104.5" y="385.8" width="11.0" height="2.2"/><rect x="104.5" y="390.5" width="11.0" height="2.2"/><rect x="104.5" y="395.2" width="11.0" height="2.2"/><rect x="104.5" y="399.8" width="11.0" height="2.2"/><rect x="195.3" y="372.9" width="9.6" height="2.2"/><rect x="195.3" y="377.5" width="9.6" height="2.2"/><rect x="195.3" y="382.2" width="9.6" height="2.2"/><rect x="195.3" y="386.9" width="9.6" height="2.2"/><rect x="195.3" y="391.6" width="9.6" height="2.2"/></g>
<circle cx="76.9" cy="383.3" r="3.9" fill="none" stroke="#e4ecfb" stroke-width="1.2" opacity=".7"/>
<circle cx="109.4" cy="367.4" r="3.3" fill="none" stroke="#e4ecfb" stroke-width="1.2" opacity=".7"/>
<circle cx="200.0" cy="363.5" r="3.3" fill="none" stroke="#e4ecfb" stroke-width="1.2" opacity=".7"/>
<circle cx="173.3" cy="377.8" r="3.9" fill="none" stroke="#e4ecfb" stroke-width="1.2" opacity=".7"/>
<circle cx="214.6" cy="376.4" r="2.5" fill="none" stroke="#e4ecfb" stroke-width="1.2" opacity=".7"/>
<circle cx="214.6" cy="384.7" r="2.5" fill="none" stroke="#e4ecfb" stroke-width="1.2" opacity=".7"/>
<circle cx="214.6" cy="393.0" r="2.5" fill="none" stroke="#e4ecfb" stroke-width="1.2" opacity=".7"/>
<rect x="126.5" y="397.1" width="61.9" height="19.3" fill="#dbe5f8" opacity=".45"/>
<rect x="57.7" y="402.6" width="59.2" height="16.5" fill="none" stroke="#e4ecfb" stroke-width=".8" opacity=".7"/>
</g>
<g fill="url(#gl)">
<path d="M244.3 72 L541 92.7 L700 120 L700 150 L429 138.6 Q340 148.3 244.3 154.7 L287 112 Z"/>
<path d="M200.5 210.8 L357.3 223 L420 226 L420 280 L357.3 280 L200.5 294 L246.6 250.9 Z"/>
<path d="M240.1 341.2 L385.8 353.3 L520 380 L520 410 L444 405.5 L240.1 424.4 L283.3 381.7 Z"/>
</g>
<g fill="url(#gr)">
<path d="M700 95.9 L987.5 95.9 L982.8 79.1 L1031.3 112.3 L984.7 147.5 L989 128.8 L700 128.8 Z"/>
<path d="M900 234.7 L1012 234.7 L1006.4 218 L1059.2 251 L1009.2 286 L1012.7 268 L900 268 Z"/>
<path d="M850 365.4 L987.3 365.4 L982.5 348.6 L1031.8 381.7 L984.8 416.8 L989.3 398.5 L850 398.5 Z"/>
</g>
<g><ellipse cx="661.65" cy="277.20" rx="306.00" ry="187.80" fill="#000" opacity=".62" filter="url(#sh)"/><ellipse cx="661.65" cy="274.00" rx="305.20" ry="187.00" fill="#b4c7e7" stroke="#4472c4" stroke-width="1.7"/><ellipse cx="661.65" cy="243.95" rx="305.65" ry="162.25" fill="#fff" stroke="#4472c4" stroke-width="1.7"/></g>
<g><ellipse cx="661.75" cy="222.20" rx="250.15" ry="130.80" fill="#000" opacity=".62" filter="url(#sh)"/><ellipse cx="661.75" cy="219.00" rx="249.35" ry="130.00" fill="#c5e0b4" stroke="#70ad47" stroke-width="1.7"/><ellipse cx="661.75" cy="193.70" rx="249.05" ry="107.40" fill="#fff" stroke="#70ad47" stroke-width="1.7"/></g>
<g><ellipse cx="661.85" cy="174.70" rx="187.40" ry="79.55" fill="#000" opacity=".62" filter="url(#sh)"/><ellipse cx="661.85" cy="171.50" rx="186.60" ry="78.75" fill="#f8cbad" stroke="#ed7d31" stroke-width="1.7"/><ellipse cx="661.85" cy="148.35" rx="182.85" ry="57.45" fill="#fff" stroke="#ed7d31" stroke-width="1.7"/></g>
<g stroke="#ed7d31" stroke-width="2.2" stroke-dasharray="7 2.5" fill="none" stroke-linejoin="round">
<path d="M751.6 130 L765.7 115.5 L765.7 161 L751.6 175.3 Z" fill="#c9c9c9"/>
<path d="M563 130 L577.2 115.5 L765.7 115.5"/>
<rect x="563" y="130" width="188.6" height="45.3"/>
</g>
<defs>
<path id="po" d="M501.6 210.7 L505.0 212.3 L508.5 213.8 L512.2 215.3 L516.1 216.7 L520.1 218.2 L524.4 219.5 L528.8 220.9 L533.3 222.1 L538.1 223.4 L542.9 224.6 L548.0 225.7 L553.1 226.8 L558.4 227.9 L563.8 228.9 L569.4 229.8 L575.0 230.7 L580.8 231.5 L586.6 232.3 L592.5 233.0 L598.6 233.7 L604.7 234.2 L610.9 234.8 L617.1 235.2 L623.4 235.7 L629.7 236.0 L636.1 236.3 L642.5 236.5 L648.9 236.7 L655.4 236.8 L661.9 236.8 L668.3 236.8 L674.8 236.7 L681.2 236.5 L687.6 236.3 L694.0 236.0 L700.3 235.7 L706.6 235.2 L712.8 234.8 L719.0 234.2 L725.1 233.7 L731.2 233.0 L737.1 232.3 L742.9 231.5 L748.7 230.7 L754.4 229.8 L759.9 228.9 L765.3 227.9 L770.6 226.8 L775.7 225.7 L780.8 224.6 L785.6 223.4 L790.4 222.1 L794.9 220.9 L799.3 219.5 L803.6 218.2 L807.6 216.7 L811.5 215.3 L815.2 213.8 L818.7 212.3 L822.1 210.7" fill="none"/>
<path id="pg" d="M457.6 294.2 L462.3 296.8 L467.2 299.5 L472.3 302.0 L477.5 304.5 L483.0 306.9 L488.6 309.3 L494.5 311.5 L500.5 313.7 L506.6 315.8 L512.9 317.8 L519.4 319.8 L526.0 321.6 L532.8 323.4 L539.7 325.0 L546.7 326.6 L553.8 328.1 L561.1 329.5 L568.4 330.8 L575.8 332.0 L583.4 333.0 L591.0 334.0 L598.7 334.9 L606.4 335.7 L614.2 336.4 L622.1 337.0 L629.9 337.5 L637.9 337.8 L645.8 338.1 L653.8 338.2 L661.8 338.3 L669.7 338.2 L677.7 338.1 L685.6 337.8 L693.6 337.5 L701.4 337.0 L709.3 336.4 L717.1 335.7 L724.8 334.9 L732.5 334.0 L740.1 333.0 L747.7 332.0 L755.1 330.8 L762.4 329.5 L769.7 328.1 L776.8 326.6 L783.8 325.0 L790.7 323.4 L797.5 321.6 L804.1 319.8 L810.6 317.8 L816.9 315.8 L823.0 313.7 L829.0 311.5 L834.9 309.3 L840.5 306.9 L846.0 304.5 L851.2 302.0 L856.3 299.5 L861.2 296.8 L865.9 294.2" fill="none"/>
<path id="pb" d="M427.7 389.2 L433.5 392.9 L439.5 396.6 L445.7 400.2 L452.1 403.7 L458.6 407.1 L465.3 410.4 L472.2 413.5 L479.3 416.6 L486.5 419.5 L493.8 422.3 L501.3 425.0 L509.0 427.6 L516.7 430.0 L524.6 432.3 L532.6 434.5 L540.7 436.5 L548.9 438.4 L557.2 440.2 L565.6 441.9 L574.1 443.4 L582.6 444.7 L591.2 446.0 L599.9 447.0 L608.6 448.0 L617.4 448.8 L626.2 449.4 L635.0 449.9 L643.9 450.3 L652.8 450.5 L661.6 450.6 L670.5 450.5 L679.4 450.3 L688.3 449.9 L697.1 449.4 L705.9 448.8 L714.7 448.0 L723.4 447.0 L732.1 446.0 L740.7 444.7 L749.2 443.4 L757.7 441.9 L766.1 440.2 L774.4 438.4 L782.6 436.5 L790.7 434.5 L798.7 432.3 L806.6 430.0 L814.3 427.6 L822.0 425.0 L829.5 422.3 L836.8 419.5 L844.0 416.6 L851.1 413.5 L858.0 410.4 L864.7 407.1 L871.2 403.7 L877.6 400.2 L883.8 396.6 L889.8 392.9 L895.6 389.2" fill="none"/>
</defs>
<text font-size="27.5" fill="#c55a11" stroke="#c55a11" stroke-width=".3" text-anchor="middle"><textPath href="#po" startOffset="50%">电网规划的统一作业平台</textPath></text>
<text font-size="30" fill="#548235" stroke="#548235" stroke-width=".3" text-anchor="middle"><textPath href="#pg" startOffset="50%">电网业务的协同作业平台</textPath></text>
<text font-size="34.5" letter-spacing="1.2" fill="#4472c4" stroke="#4472c4" stroke-width=".35" text-anchor="middle"><textPath href="#pb" startOffset="50%">能源服务的资源开放平台</textPath></text>
<text stroke="#7f7f7f" stroke-width=".3" x="665.5" y="65.3" font-size="29" fill="#7f7f7f" text-anchor="middle">企业级</text>
<text x="657.2" y="163.0" font-size="23.4" fill="#000" text-anchor="middle" class="b">在线规划管理</text>
<text x="654.3" y="285.0" font-size="23.8" fill="#000" text-anchor="middle" class="b">一张图共建共享</text>
<text x="653.8" y="389.6" font-size="23.2" fill="#000" text-anchor="middle" class="b">能源互联网生态圈</text>
<text x="321.5" y="122.0" font-size="26" fill="#262626" text-anchor="middle">实时</text>
<text x="277.6" y="262.0" font-size="26" fill="#262626" text-anchor="middle">实景</text>
<text x="318.4" y="392.0" font-size="26" fill="#262626" text-anchor="middle">实效</text>
<path d="M419.7 460.9 C423.6 454.0 434.4 436.5 443.2 419.7 C452.0 402.9 463.6 379.9 472.5 360.0 C481.4 340.1 489.9 320.1 496.3 300.0 C502.8 279.9 507.2 259.7 511.2 239.7 C515.2 219.7 518.2 194.9 520.3 180.0 C522.4 165.1 522.8 160.0 523.7 150.0 C524.6 140.0 524.8 133.7 525.6 120.0 C526.4 106.3 528.1 76.3 528.6 67.6 L487.2 68.5 L659 1.5 L843.4 69.5 L795.6 68.4 C796.1 77.0 797.8 106.4 798.6 120.0 C799.4 133.6 799.6 140.0 800.5 150.0 C801.4 160.0 801.5 165.1 803.9 180.0 C806.3 194.9 810.2 219.7 814.7 239.7 C819.2 259.7 824.6 280.0 831.2 300.0 C837.8 320.0 846.5 341.0 854.3 359.7 C862.1 378.4 869.9 395.1 877.9 412.0 C885.9 428.9 898.2 452.8 902.3 460.9 Z" fill="none" stroke="#4472c4" stroke-width="1.4" stroke-dasharray="3.8 1.4"/>
<path d="M1069.21 89.52 L1068.96 87.32 L1068.97 85.11 L1069.25 82.91 L1069.79 80.74 L1070.59 78.62 L1071.63 76.56 L1072.92 74.59 L1074.44 72.72 L1076.17 70.97 L1078.11 69.35 L1080.23 67.88 L1082.52 66.57 L1084.95 65.43 L1087.51 64.47 L1090.17 63.70 L1092.92 63.13 L1095.72 62.76 L1098.55 62.59 L1101.39 62.63 L1104.21 62.87 L1106.99 63.32 L1109.71 63.97 L1112.34 64.81 L1114.85 65.84 L1115.79 64.58 L1116.85 63.38 L1118.03 62.26 L1119.31 61.20 L1120.70 60.23 L1122.18 59.34 L1123.74 58.54 L1125.37 57.84 L1127.07 57.25 L1128.83 56.75 L1130.63 56.37 L1132.46 56.09 L1134.32 55.92 L1136.18 55.87 L1138.04 55.93 L1139.90 56.10 L1141.73 56.39 L1143.52 56.78 L1145.28 57.28 L1146.97 57.89 L1148.61 58.59 L1150.16 59.39 L1151.64 60.29 L1153.02 61.27 L1153.82 60.13 L1154.75 59.05 L1155.79 58.04 L1156.93 57.10 L1158.17 56.24 L1159.51 55.46 L1160.92 54.77 L1162.40 54.18 L1163.94 53.68 L1165.52 53.29 L1167.15 53.01 L1168.80 52.83 L1170.46 52.76 L1172.12 52.81 L1173.78 52.96 L1175.41 53.22 L1177.01 53.58 L1178.56 54.05 L1180.05 54.62 L1181.48 55.29 L1182.83 56.04 L1184.10 56.89 L1185.27 57.81 L1186.33 58.81 L1187.74 57.64 L1189.28 56.57 L1190.95 55.62 L1192.72 54.80 L1194.59 54.11 L1196.53 53.56 L1198.53 53.16 L1200.56 52.90 L1202.62 52.79 L1204.69 52.83 L1206.74 53.03 L1208.76 53.37 L1210.72 53.86 L1212.62 54.49 L1214.44 55.26 L1216.15 56.15 L1217.75 57.17 L1219.21 58.30 L1220.54 59.53 L1221.71 60.85 L1222.71 62.25 L1223.54 63.72 L1224.19 65.24 L1224.65 66.80 L1226.29 67.20 L1227.89 67.69 L1229.44 68.26 L1230.93 68.92 L1232.36 69.66 L1233.72 70.48 L1235.00 71.37 L1236.19 72.33 L1237.30 73.36 L1238.30 74.44 L1239.21 75.58 L1240.01 76.76 L1240.70 77.99 L1241.28 79.25 L1241.74 80.54 L1242.08 81.85 L1242.30 83.18 L1242.40 84.51 L1242.38 85.85 L1242.24 87.18 L1241.97 88.51 L1241.58 89.81 L1241.08 91.09 L1240.46 92.34 L1241.99 94.03 L1243.32 95.82 L1244.44 97.69 L1245.35 99.63 L1246.05 101.63 L1246.52 103.66 L1246.76 105.72 L1246.77 107.79 L1246.55 109.85 L1246.10 111.89 L1245.42 113.89 L1244.53 115.83 L1243.42 117.71 L1242.11 119.51 L1240.60 121.21 L1238.91 122.80 L1237.05 124.28 L1235.03 125.62 L1232.86 126.82 L1230.58 127.87 L1228.18 128.76 L1225.69 129.49 L1223.14 130.04 L1220.53 130.42 L1220.41 132.22 L1220.08 134.00 L1219.56 135.74 L1218.84 137.45 L1217.93 139.10 L1216.83 140.68 L1215.56 142.18 L1214.13 143.59 L1212.54 144.89 L1210.81 146.08 L1208.95 147.14 L1206.98 148.07 L1204.91 148.87 L1202.76 149.52 L1200.54 150.02 L1198.28 150.36 L1195.98 150.55 L1193.67 150.58 L1191.37 150.45 L1189.09 150.16 L1186.85 149.72 L1184.68 149.12 L1182.57 148.38 L1180.56 147.50 L1179.61 149.61 L1178.40 151.64 L1176.95 153.57 L1175.27 155.39 L1173.39 157.08 L1171.31 158.62 L1169.05 160.00 L1166.64 161.21 L1164.09 162.24 L1161.43 163.08 L1158.68 163.72 L1155.87 164.15 L1153.01 164.37 L1150.14 164.39 L1147.29 164.19 L1144.46 163.79 L1141.71 163.18 L1139.03 162.37 L1136.47 161.37 L1134.03 160.18 L1131.75 158.82 L1129.65 157.30 L1127.73 155.63 L1126.03 153.83 L1124.01 154.71 L1121.92 155.48 L1119.77 156.15 L1117.57 156.69 L1115.32 157.13 L1113.05 157.45 L1110.75 157.64 L1108.44 157.72 L1106.13 157.68 L1103.83 157.52 L1101.54 157.24 L1099.29 156.85 L1097.07 156.33 L1094.90 155.71 L1092.79 154.97 L1090.75 154.13 L1088.78 153.18 L1086.90 152.13 L1085.11 150.99 L1083.42 149.75 L1081.84 148.43 L1080.37 147.04 L1079.03 145.57 L1077.82 144.03 L1075.82 144.13 L1073.82 144.08 L1071.84 143.87 L1069.89 143.50 L1068.01 142.98 L1066.20 142.31 L1064.49 141.51 L1062.89 140.57 L1061.42 139.52 L1060.10 138.35 L1058.94 137.09 L1057.94 135.74 L1057.13 134.32 L1056.51 132.84 L1056.09 131.32 L1055.87 129.78 L1055.85 128.23 L1056.03 126.68 L1056.41 125.15 L1057.00 123.67 L1057.77 122.23 L1058.72 120.87 L1059.85 119.59 L1061.15 118.40 L1059.43 117.52 L1057.85 116.50 L1056.40 115.36 L1055.12 114.11 L1054.02 112.76 L1053.09 111.32 L1052.37 109.82 L1051.85 108.27 L1051.54 106.68 L1051.44 105.08 L1051.55 103.48 L1051.88 101.89 L1052.42 100.34 L1053.16 98.85 L1054.10 97.42 L1055.23 96.08 L1056.52 94.83 L1057.98 93.70 L1059.57 92.70 L1061.30 91.83 L1063.12 91.10 L1065.04 90.53 L1067.02 90.12 L1069.05 89.87 Z" fill="#fff" stroke="#4472c4" stroke-width="2" stroke-linejoin="round"/><path d="M1072.79 120.02 L1072.30 120.05 L1071.80 120.06 L1071.31 120.07 L1070.81 120.07 L1070.31 120.05 L1069.82 120.03 L1069.32 119.99 L1068.83 119.95 L1068.34 119.90 L1067.85 119.83 L1067.36 119.76 L1066.87 119.68 L1066.39 119.59 L1065.91 119.49 L1065.44 119.38 L1064.96 119.26 L1064.49 119.13 L1064.03 118.99 L1063.57 118.84 L1063.12 118.68 L1062.67 118.52 L1062.22 118.34 L1061.79 118.16 L1061.35 117.96 M1082.89 142.56 L1082.69 142.62 L1082.49 142.68 L1082.28 142.73 L1082.08 142.79 L1081.88 142.84 L1081.67 142.90 L1081.47 142.95 L1081.26 143.00 L1081.05 143.04 L1080.84 143.09 L1080.64 143.13 L1080.43 143.18 L1080.22 143.22 L1080.01 143.26 L1079.80 143.29 L1079.59 143.33 L1079.37 143.36 L1079.16 143.39 L1078.95 143.42 L1078.74 143.45 L1078.52 143.47 L1078.31 143.50 L1078.10 143.52 L1077.88 143.54 M1126.02 153.38 L1125.87 153.21 L1125.72 153.03 L1125.57 152.85 L1125.43 152.67 L1125.29 152.49 L1125.15 152.31 L1125.01 152.12 L1124.88 151.94 L1124.74 151.76 L1124.61 151.57 L1124.48 151.39 L1124.36 151.20 L1124.23 151.01 L1124.11 150.82 L1123.99 150.63 L1123.87 150.44 L1123.75 150.25 L1123.64 150.06 L1123.53 149.86 L1123.42 149.67 L1123.31 149.48 L1123.21 149.28 L1123.10 149.08 L1123.00 148.89 M1181.79 142.17 L1181.77 142.38 L1181.74 142.59 L1181.71 142.80 L1181.68 143.01 L1181.65 143.22 L1181.61 143.42 L1181.58 143.63 L1181.54 143.84 L1181.49 144.05 L1181.45 144.25 L1181.40 144.46 L1181.35 144.66 L1181.30 144.87 L1181.25 145.08 L1181.19 145.28 L1181.13 145.49 L1181.07 145.69 L1181.01 145.89 L1180.94 146.10 L1180.88 146.30 L1180.81 146.50 L1180.74 146.70 L1180.66 146.90 L1180.58 147.11 M1205.73 111.70 L1206.82 112.14 L1207.88 112.61 L1208.91 113.13 L1209.91 113.68 L1210.88 114.27 L1211.81 114.89 L1212.70 115.54 L1213.54 116.23 L1214.35 116.95 L1215.11 117.69 L1215.83 118.47 L1216.50 119.26 L1217.12 120.09 L1217.69 120.93 L1218.21 121.79 L1218.68 122.67 L1219.09 123.57 L1219.45 124.48 L1219.75 125.41 L1220.00 126.34 L1220.19 127.28 L1220.32 128.23 L1220.40 129.18 L1220.42 130.13 M1240.37 92.06 L1240.18 92.40 L1239.99 92.72 L1239.78 93.05 L1239.57 93.37 L1239.36 93.69 L1239.13 94.00 L1238.90 94.31 L1238.65 94.62 L1238.40 94.93 L1238.15 95.23 L1237.88 95.52 L1237.61 95.82 L1237.33 96.10 L1237.05 96.39 L1236.76 96.67 L1236.46 96.94 L1236.15 97.22 L1235.84 97.48 L1235.52 97.74 L1235.19 98.00 L1234.86 98.25 L1234.52 98.50 L1234.18 98.74 L1233.83 98.98 M1224.68 66.42 L1224.71 66.55 L1224.74 66.69 L1224.77 66.82 L1224.79 66.96 L1224.82 67.09 L1224.84 67.23 L1224.86 67.36 L1224.88 67.50 L1224.90 67.63 L1224.92 67.77 L1224.94 67.91 L1224.95 68.04 L1224.97 68.18 L1224.98 68.32 L1224.99 68.45 L1225.00 68.59 L1225.01 68.73 L1225.01 68.86 L1225.02 69.00 L1225.02 69.13 L1225.03 69.27 L1225.03 69.41 L1225.03 69.54 L1225.02 69.68 M1182.92 62.61 L1183.03 62.42 L1183.14 62.24 L1183.25 62.05 L1183.37 61.87 L1183.49 61.68 L1183.61 61.50 L1183.74 61.32 L1183.86 61.14 L1183.99 60.96 L1184.13 60.78 L1184.26 60.61 L1184.40 60.43 L1184.54 60.26 L1184.69 60.09 L1184.84 59.92 L1184.98 59.75 L1185.14 59.58 L1185.29 59.41 L1185.45 59.25 L1185.61 59.09 L1185.77 58.92 L1185.93 58.76 L1186.10 58.60 L1186.27 58.45 M1151.59 64.59 L1151.64 64.44 L1151.68 64.28 L1151.73 64.13 L1151.78 63.97 L1151.84 63.82 L1151.89 63.67 L1151.95 63.52 L1152.01 63.36 L1152.07 63.21 L1152.13 63.06 L1152.19 62.91 L1152.26 62.76 L1152.33 62.61 L1152.40 62.46 L1152.47 62.31 L1152.55 62.16 L1152.62 62.02 L1152.70 61.87 L1152.78 61.72 L1152.87 61.58 L1152.95 61.43 L1153.04 61.29 L1153.13 61.15 L1153.22 61.00 M1114.83 65.81 L1115.09 65.94 L1115.36 66.06 L1115.62 66.19 L1115.88 66.31 L1116.14 66.45 L1116.39 66.58 L1116.65 66.71 L1116.90 66.85 L1117.15 66.99 L1117.40 67.13 L1117.65 67.27 L1117.90 67.42 L1118.14 67.56 L1118.38 67.71 L1118.62 67.86 L1118.86 68.01 L1119.10 68.17 L1119.33 68.32 L1119.57 68.48 L1119.80 68.64 L1120.03 68.80 L1120.25 68.96 L1120.48 69.13 L1120.70 69.30 M1070.24 93.19 L1070.18 93.04 L1070.12 92.89 L1070.07 92.74 L1070.02 92.59 L1069.96 92.44 L1069.91 92.28 L1069.86 92.13 L1069.81 91.98 L1069.77 91.83 L1069.72 91.68 L1069.68 91.52 L1069.63 91.37 L1069.59 91.22 L1069.55 91.07 L1069.51 90.91 L1069.47 90.76 L1069.44 90.60 L1069.40 90.45 L1069.37 90.30 L1069.33 90.14 L1069.30 89.99 L1069.27 89.83 L1069.24 89.68 L1069.21 89.52" fill="none" stroke="#4472c4" stroke-width="2" stroke-linecap="round"/>
<text x="1147.5" y="112.6" font-size="26" fill="#000" text-anchor="middle" class="b">数字化</text>
<path d="M1090.61 225.42 L1090.36 223.22 L1090.37 221.01 L1090.65 218.81 L1091.19 216.64 L1091.99 214.52 L1093.03 212.46 L1094.32 210.49 L1095.84 208.62 L1097.57 206.87 L1099.51 205.25 L1101.63 203.78 L1103.92 202.47 L1106.35 201.33 L1108.91 200.37 L1111.57 199.60 L1114.32 199.03 L1117.12 198.66 L1119.95 198.49 L1122.79 198.53 L1125.61 198.77 L1128.39 199.22 L1131.11 199.87 L1133.74 200.71 L1136.25 201.74 L1137.19 200.48 L1138.25 199.28 L1139.43 198.16 L1140.71 197.10 L1142.10 196.13 L1143.58 195.24 L1145.14 194.44 L1146.77 193.74 L1148.47 193.15 L1150.23 192.65 L1152.03 192.27 L1153.86 191.99 L1155.72 191.82 L1157.58 191.77 L1159.44 191.83 L1161.30 192.00 L1163.13 192.29 L1164.92 192.68 L1166.68 193.18 L1168.37 193.79 L1170.01 194.49 L1171.56 195.29 L1173.04 196.19 L1174.42 197.17 L1175.22 196.03 L1176.15 194.95 L1177.19 193.94 L1178.33 193.00 L1179.57 192.14 L1180.91 191.36 L1182.32 190.67 L1183.80 190.08 L1185.34 189.58 L1186.92 189.19 L1188.55 188.91 L1190.20 188.73 L1191.86 188.66 L1193.52 188.71 L1195.18 188.86 L1196.81 189.12 L1198.41 189.48 L1199.96 189.95 L1201.45 190.52 L1202.88 191.19 L1204.23 191.94 L1205.50 192.79 L1206.67 193.71 L1207.73 194.71 L1209.14 193.54 L1210.68 192.47 L1212.35 191.52 L1214.12 190.70 L1215.99 190.01 L1217.93 189.46 L1219.93 189.06 L1221.96 188.80 L1224.02 188.69 L1226.09 188.73 L1228.14 188.93 L1230.16 189.27 L1232.12 189.76 L1234.02 190.39 L1235.84 191.16 L1237.55 192.05 L1239.15 193.07 L1240.61 194.20 L1241.94 195.43 L1243.11 196.75 L1244.11 198.15 L1244.94 199.62 L1245.59 201.14 L1246.05 202.70 L1247.69 203.10 L1249.29 203.59 L1250.84 204.16 L1252.33 204.82 L1253.76 205.56 L1255.12 206.38 L1256.40 207.27 L1257.59 208.23 L1258.70 209.26 L1259.70 210.34 L1260.61 211.48 L1261.41 212.66 L1262.10 213.89 L1262.68 215.15 L1263.14 216.44 L1263.48 217.75 L1263.70 219.08 L1263.80 220.41 L1263.78 221.75 L1263.64 223.08 L1263.37 224.41 L1262.98 225.71 L1262.48 226.99 L1261.86 228.24 L1263.39 229.93 L1264.72 231.72 L1265.84 233.59 L1266.75 235.53 L1267.45 237.53 L1267.92 239.56 L1268.16 241.62 L1268.17 243.69 L1267.95 245.75 L1267.50 247.79 L1266.82 249.79 L1265.93 251.73 L1264.82 253.61 L1263.51 255.41 L1262.00 257.11 L1260.31 258.70 L1258.45 260.18 L1256.43 261.52 L1254.26 262.72 L1251.98 263.77 L1249.58 264.66 L1247.09 265.39 L1244.54 265.94 L1241.93 266.32 L1241.81 268.12 L1241.48 269.90 L1240.96 271.64 L1240.24 273.35 L1239.33 275.00 L1238.23 276.58 L1236.96 278.08 L1235.53 279.49 L1233.94 280.79 L1232.21 281.98 L1230.35 283.04 L1228.38 283.97 L1226.31 284.77 L1224.16 285.42 L1221.94 285.92 L1219.68 286.26 L1217.38 286.45 L1215.07 286.48 L1212.77 286.35 L1210.49 286.06 L1208.25 285.62 L1206.08 285.02 L1203.97 284.28 L1201.96 283.40 L1201.01 285.51 L1199.80 287.54 L1198.35 289.47 L1196.67 291.29 L1194.79 292.98 L1192.71 294.52 L1190.45 295.90 L1188.04 297.11 L1185.49 298.14 L1182.83 298.98 L1180.08 299.62 L1177.27 300.05 L1174.41 300.27 L1171.54 300.29 L1168.69 300.09 L1165.86 299.69 L1163.11 299.08 L1160.43 298.27 L1157.87 297.27 L1155.43 296.08 L1153.15 294.72 L1151.05 293.20 L1149.13 291.53 L1147.43 289.73 L1145.41 290.61 L1143.32 291.38 L1141.17 292.05 L1138.97 292.59 L1136.72 293.03 L1134.45 293.35 L1132.15 293.54 L1129.84 293.62 L1127.53 293.58 L1125.23 293.42 L1122.94 293.14 L1120.69 292.75 L1118.47 292.23 L1116.30 291.61 L1114.19 290.87 L1112.15 290.03 L1110.18 289.08 L1108.30 288.03 L1106.51 286.89 L1104.82 285.65 L1103.24 284.33 L1101.77 282.94 L1100.43 281.47 L1099.22 279.93 L1097.22 280.03 L1095.22 279.98 L1093.24 279.77 L1091.29 279.40 L1089.41 278.88 L1087.60 278.21 L1085.89 277.41 L1084.29 276.47 L1082.82 275.42 L1081.50 274.25 L1080.34 272.99 L1079.34 271.64 L1078.53 270.22 L1077.91 268.74 L1077.49 267.22 L1077.27 265.68 L1077.25 264.13 L1077.43 262.58 L1077.81 261.05 L1078.40 259.57 L1079.17 258.13 L1080.12 256.77 L1081.25 255.49 L1082.55 254.30 L1080.83 253.42 L1079.25 252.40 L1077.80 251.26 L1076.52 250.01 L1075.42 248.66 L1074.49 247.22 L1073.77 245.72 L1073.25 244.17 L1072.94 242.58 L1072.84 240.98 L1072.95 239.38 L1073.28 237.79 L1073.82 236.24 L1074.56 234.75 L1075.50 233.32 L1076.63 231.98 L1077.92 230.73 L1079.38 229.60 L1080.97 228.60 L1082.70 227.73 L1084.52 227.00 L1086.44 226.43 L1088.42 226.02 L1090.45 225.77 Z" fill="#fff" stroke="#70ad47" stroke-width="2" stroke-linejoin="round"/><path d="M1094.19 255.92 L1093.70 255.95 L1093.20 255.96 L1092.71 255.97 L1092.21 255.97 L1091.71 255.95 L1091.22 255.93 L1090.72 255.89 L1090.23 255.85 L1089.74 255.80 L1089.25 255.73 L1088.76 255.66 L1088.27 255.58 L1087.79 255.49 L1087.31 255.39 L1086.84 255.28 L1086.36 255.16 L1085.89 255.03 L1085.43 254.89 L1084.97 254.74 L1084.52 254.58 L1084.07 254.42 L1083.62 254.24 L1083.19 254.06 L1082.75 253.86 M1104.29 278.46 L1104.09 278.52 L1103.89 278.58 L1103.68 278.63 L1103.48 278.69 L1103.28 278.74 L1103.07 278.80 L1102.87 278.85 L1102.66 278.90 L1102.45 278.94 L1102.24 278.99 L1102.04 279.03 L1101.83 279.08 L1101.62 279.12 L1101.41 279.16 L1101.20 279.19 L1100.99 279.23 L1100.77 279.26 L1100.56 279.29 L1100.35 279.32 L1100.14 279.35 L1099.92 279.37 L1099.71 279.40 L1099.50 279.42 L1099.28 279.44 M1147.42 289.28 L1147.27 289.11 L1147.12 288.93 L1146.97 288.75 L1146.83 288.57 L1146.69 288.39 L1146.55 288.21 L1146.41 288.02 L1146.28 287.84 L1146.14 287.66 L1146.01 287.47 L1145.88 287.29 L1145.76 287.10 L1145.63 286.91 L1145.51 286.72 L1145.39 286.53 L1145.27 286.34 L1145.15 286.15 L1145.04 285.96 L1144.93 285.76 L1144.82 285.57 L1144.71 285.38 L1144.61 285.18 L1144.50 284.98 L1144.40 284.79 M1203.19 278.07 L1203.17 278.28 L1203.14 278.49 L1203.11 278.70 L1203.08 278.91 L1203.05 279.12 L1203.01 279.32 L1202.98 279.53 L1202.94 279.74 L1202.89 279.95 L1202.85 280.15 L1202.80 280.36 L1202.75 280.56 L1202.70 280.77 L1202.65 280.98 L1202.59 281.18 L1202.53 281.39 L1202.47 281.59 L1202.41 281.79 L1202.34 282.00 L1202.28 282.20 L1202.21 282.40 L1202.14 282.60 L1202.06 282.80 L1201.98 283.01 M1227.13 247.60 L1228.22 248.04 L1229.28 248.51 L1230.31 249.03 L1231.31 249.58 L1232.28 250.17 L1233.21 250.79 L1234.10 251.44 L1234.94 252.13 L1235.75 252.85 L1236.51 253.59 L1237.23 254.37 L1237.90 255.16 L1238.52 255.99 L1239.09 256.83 L1239.61 257.69 L1240.08 258.57 L1240.49 259.47 L1240.85 260.38 L1241.15 261.31 L1241.40 262.24 L1241.59 263.18 L1241.72 264.13 L1241.80 265.08 L1241.82 266.03 M1261.77 227.96 L1261.58 228.30 L1261.39 228.62 L1261.18 228.95 L1260.97 229.27 L1260.76 229.59 L1260.53 229.90 L1260.30 230.21 L1260.05 230.52 L1259.80 230.83 L1259.55 231.13 L1259.28 231.42 L1259.01 231.72 L1258.73 232.00 L1258.45 232.29 L1258.16 232.57 L1257.86 232.84 L1257.55 233.12 L1257.24 233.38 L1256.92 233.64 L1256.59 233.90 L1256.26 234.15 L1255.92 234.40 L1255.58 234.64 L1255.23 234.88 M1246.08 202.32 L1246.11 202.45 L1246.14 202.59 L1246.17 202.72 L1246.19 202.86 L1246.22 202.99 L1246.24 203.13 L1246.26 203.26 L1246.28 203.40 L1246.30 203.53 L1246.32 203.67 L1246.34 203.81 L1246.35 203.94 L1246.37 204.08 L1246.38 204.22 L1246.39 204.35 L1246.40 204.49 L1246.41 204.63 L1246.41 204.76 L1246.42 204.90 L1246.42 205.03 L1246.43 205.17 L1246.43 205.31 L1246.43 205.44 L1246.42 205.58 M1204.32 198.51 L1204.43 198.32 L1204.54 198.14 L1204.65 197.95 L1204.77 197.77 L1204.89 197.58 L1205.01 197.40 L1205.14 197.22 L1205.26 197.04 L1205.39 196.86 L1205.53 196.68 L1205.66 196.51 L1205.80 196.33 L1205.94 196.16 L1206.09 195.99 L1206.24 195.82 L1206.38 195.65 L1206.54 195.48 L1206.69 195.31 L1206.85 195.15 L1207.01 194.99 L1207.17 194.82 L1207.33 194.66 L1207.50 194.50 L1207.67 194.35 M1172.99 200.49 L1173.04 200.34 L1173.08 200.18 L1173.13 200.03 L1173.18 199.87 L1173.24 199.72 L1173.29 199.57 L1173.35 199.42 L1173.41 199.26 L1173.47 199.11 L1173.53 198.96 L1173.59 198.81 L1173.66 198.66 L1173.73 198.51 L1173.80 198.36 L1173.87 198.21 L1173.95 198.06 L1174.02 197.92 L1174.10 197.77 L1174.18 197.62 L1174.27 197.48 L1174.35 197.33 L1174.44 197.19 L1174.53 197.05 L1174.62 196.90 M1136.23 201.71 L1136.49 201.84 L1136.76 201.96 L1137.02 202.09 L1137.28 202.21 L1137.54 202.35 L1137.79 202.48 L1138.05 202.61 L1138.30 202.75 L1138.55 202.89 L1138.80 203.03 L1139.05 203.17 L1139.30 203.32 L1139.54 203.46 L1139.78 203.61 L1140.02 203.76 L1140.26 203.91 L1140.50 204.07 L1140.73 204.22 L1140.97 204.38 L1141.20 204.54 L1141.43 204.70 L1141.65 204.86 L1141.88 205.03 L1142.10 205.20 M1091.64 229.09 L1091.58 228.94 L1091.52 228.79 L1091.47 228.64 L1091.42 228.49 L1091.36 228.34 L1091.31 228.18 L1091.26 228.03 L1091.21 227.88 L1091.17 227.73 L1091.12 227.58 L1091.08 227.42 L1091.03 227.27 L1090.99 227.12 L1090.95 226.97 L1090.91 226.81 L1090.87 226.66 L1090.84 226.50 L1090.80 226.35 L1090.77 226.20 L1090.73 226.04 L1090.70 225.89 L1090.67 225.73 L1090.64 225.58 L1090.61 225.42" fill="none" stroke="#70ad47" stroke-width="2" stroke-linecap="round"/>
<text x="1170.5" y="256.0" font-size="26" fill="#000" text-anchor="middle" class="b">可视化</text>
<path d="M1063.01 360.12 L1062.76 357.92 L1062.77 355.71 L1063.05 353.51 L1063.59 351.34 L1064.39 349.22 L1065.43 347.16 L1066.72 345.19 L1068.24 343.32 L1069.97 341.57 L1071.91 339.95 L1074.03 338.48 L1076.32 337.17 L1078.75 336.03 L1081.31 335.07 L1083.97 334.30 L1086.72 333.73 L1089.52 333.36 L1092.35 333.19 L1095.19 333.23 L1098.01 333.47 L1100.79 333.92 L1103.51 334.57 L1106.14 335.41 L1108.65 336.44 L1109.59 335.18 L1110.65 333.98 L1111.83 332.86 L1113.11 331.80 L1114.50 330.83 L1115.98 329.94 L1117.54 329.14 L1119.17 328.44 L1120.87 327.85 L1122.63 327.35 L1124.43 326.97 L1126.26 326.69 L1128.12 326.52 L1129.98 326.47 L1131.84 326.53 L1133.70 326.70 L1135.53 326.99 L1137.32 327.38 L1139.08 327.88 L1140.77 328.49 L1142.41 329.19 L1143.96 329.99 L1145.44 330.89 L1146.82 331.87 L1147.62 330.73 L1148.55 329.65 L1149.59 328.64 L1150.73 327.70 L1151.97 326.84 L1153.31 326.06 L1154.72 325.37 L1156.20 324.78 L1157.74 324.28 L1159.32 323.89 L1160.95 323.61 L1162.60 323.43 L1164.26 323.36 L1165.92 323.41 L1167.58 323.56 L1169.21 323.82 L1170.81 324.18 L1172.36 324.65 L1173.85 325.22 L1175.28 325.89 L1176.63 326.64 L1177.90 327.49 L1179.07 328.41 L1180.13 329.41 L1181.54 328.24 L1183.08 327.17 L1184.75 326.22 L1186.52 325.40 L1188.39 324.71 L1190.33 324.16 L1192.33 323.76 L1194.36 323.50 L1196.42 323.39 L1198.49 323.43 L1200.54 323.63 L1202.56 323.97 L1204.52 324.46 L1206.42 325.09 L1208.24 325.86 L1209.95 326.75 L1211.55 327.77 L1213.01 328.90 L1214.34 330.13 L1215.51 331.45 L1216.51 332.85 L1217.34 334.32 L1217.99 335.84 L1218.45 337.40 L1220.09 337.80 L1221.69 338.29 L1223.24 338.86 L1224.73 339.52 L1226.16 340.26 L1227.52 341.08 L1228.80 341.97 L1229.99 342.93 L1231.10 343.96 L1232.10 345.04 L1233.01 346.18 L1233.81 347.36 L1234.50 348.59 L1235.08 349.85 L1235.54 351.14 L1235.88 352.45 L1236.10 353.78 L1236.20 355.11 L1236.18 356.45 L1236.04 357.78 L1235.77 359.11 L1235.38 360.41 L1234.88 361.69 L1234.26 362.94 L1235.79 364.63 L1237.12 366.42 L1238.24 368.29 L1239.15 370.23 L1239.85 372.23 L1240.32 374.26 L1240.56 376.32 L1240.57 378.39 L1240.35 380.45 L1239.90 382.49 L1239.22 384.49 L1238.33 386.43 L1237.22 388.31 L1235.91 390.11 L1234.40 391.81 L1232.71 393.40 L1230.85 394.88 L1228.83 396.22 L1226.66 397.42 L1224.38 398.47 L1221.98 399.36 L1219.49 400.09 L1216.94 400.64 L1214.33 401.02 L1214.21 402.82 L1213.88 404.60 L1213.36 406.34 L1212.64 408.05 L1211.73 409.70 L1210.63 411.28 L1209.36 412.78 L1207.93 414.19 L1206.34 415.49 L1204.61 416.68 L1202.75 417.74 L1200.78 418.67 L1198.71 419.47 L1196.56 420.12 L1194.34 420.62 L1192.08 420.96 L1189.78 421.15 L1187.47 421.18 L1185.17 421.05 L1182.89 420.76 L1180.65 420.32 L1178.48 419.72 L1176.37 418.98 L1174.36 418.10 L1173.41 420.21 L1172.20 422.24 L1170.75 424.17 L1169.07 425.99 L1167.19 427.68 L1165.11 429.22 L1162.85 430.60 L1160.44 431.81 L1157.89 432.84 L1155.23 433.68 L1152.48 434.32 L1149.67 434.75 L1146.81 434.97 L1143.94 434.99 L1141.09 434.79 L1138.26 434.39 L1135.51 433.78 L1132.83 432.97 L1130.27 431.97 L1127.83 430.78 L1125.55 429.42 L1123.45 427.90 L1121.53 426.23 L1119.83 424.43 L1117.81 425.31 L1115.72 426.08 L1113.57 426.75 L1111.37 427.29 L1109.12 427.73 L1106.85 428.05 L1104.55 428.24 L1102.24 428.32 L1099.93 428.28 L1097.63 428.12 L1095.34 427.84 L1093.09 427.45 L1090.87 426.93 L1088.70 426.31 L1086.59 425.57 L1084.55 424.73 L1082.58 423.78 L1080.70 422.73 L1078.91 421.59 L1077.22 420.35 L1075.64 419.03 L1074.17 417.64 L1072.83 416.17 L1071.62 414.63 L1069.62 414.73 L1067.62 414.68 L1065.64 414.47 L1063.69 414.10 L1061.81 413.58 L1060.00 412.91 L1058.29 412.11 L1056.69 411.17 L1055.22 410.12 L1053.90 408.95 L1052.74 407.69 L1051.74 406.34 L1050.93 404.92 L1050.31 403.44 L1049.89 401.92 L1049.67 400.38 L1049.65 398.83 L1049.83 397.28 L1050.21 395.75 L1050.80 394.27 L1051.57 392.83 L1052.52 391.47 L1053.65 390.19 L1054.95 389.00 L1053.23 388.12 L1051.65 387.10 L1050.20 385.96 L1048.92 384.71 L1047.82 383.36 L1046.89 381.92 L1046.17 380.42 L1045.65 378.87 L1045.34 377.28 L1045.24 375.68 L1045.35 374.08 L1045.68 372.49 L1046.22 370.94 L1046.96 369.45 L1047.90 368.02 L1049.03 366.68 L1050.32 365.43 L1051.78 364.30 L1053.37 363.30 L1055.10 362.43 L1056.92 361.70 L1058.84 361.13 L1060.82 360.72 L1062.85 360.47 Z" fill="#fff" stroke="#f4b183" stroke-width="2" stroke-linejoin="round"/><path d="M1066.59 390.62 L1066.10 390.65 L1065.60 390.66 L1065.11 390.67 L1064.61 390.67 L1064.11 390.65 L1063.62 390.63 L1063.12 390.59 L1062.63 390.55 L1062.14 390.50 L1061.65 390.43 L1061.16 390.36 L1060.67 390.28 L1060.19 390.19 L1059.71 390.09 L1059.24 389.98 L1058.76 389.86 L1058.29 389.73 L1057.83 389.59 L1057.37 389.44 L1056.92 389.28 L1056.47 389.12 L1056.02 388.94 L1055.59 388.76 L1055.15 388.56 M1076.69 413.16 L1076.49 413.22 L1076.29 413.28 L1076.08 413.33 L1075.88 413.39 L1075.68 413.44 L1075.47 413.50 L1075.27 413.55 L1075.06 413.60 L1074.85 413.64 L1074.64 413.69 L1074.44 413.73 L1074.23 413.78 L1074.02 413.82 L1073.81 413.86 L1073.60 413.89 L1073.39 413.93 L1073.17 413.96 L1072.96 413.99 L1072.75 414.02 L1072.54 414.05 L1072.32 414.07 L1072.11 414.10 L1071.90 414.12 L1071.68 414.14 M1119.82 423.98 L1119.67 423.81 L1119.52 423.63 L1119.37 423.45 L1119.23 423.27 L1119.09 423.09 L1118.95 422.91 L1118.81 422.72 L1118.68 422.54 L1118.54 422.36 L1118.41 422.17 L1118.28 421.99 L1118.16 421.80 L1118.03 421.61 L1117.91 421.42 L1117.79 421.23 L1117.67 421.04 L1117.55 420.85 L1117.44 420.66 L1117.33 420.46 L1117.22 420.27 L1117.11 420.08 L1117.01 419.88 L1116.90 419.68 L1116.80 419.49 M1175.59 412.77 L1175.57 412.98 L1175.54 413.19 L1175.51 413.40 L1175.48 413.61 L1175.45 413.82 L1175.41 414.02 L1175.38 414.23 L1175.34 414.44 L1175.29 414.65 L1175.25 414.85 L1175.20 415.06 L1175.15 415.26 L1175.10 415.47 L1175.05 415.68 L1174.99 415.88 L1174.93 416.09 L1174.87 416.29 L1174.81 416.49 L1174.74 416.70 L1174.68 416.90 L1174.61 417.10 L1174.54 417.30 L1174.46 417.50 L1174.38 417.71 M1199.53 382.30 L1200.62 382.74 L1201.68 383.21 L1202.71 383.73 L1203.71 384.28 L1204.68 384.87 L1205.61 385.49 L1206.50 386.14 L1207.34 386.83 L1208.15 387.55 L1208.91 388.29 L1209.63 389.07 L1210.30 389.86 L1210.92 390.69 L1211.49 391.53 L1212.01 392.39 L1212.48 393.27 L1212.89 394.17 L1213.25 395.08 L1213.55 396.01 L1213.80 396.94 L1213.99 397.88 L1214.12 398.83 L1214.20 399.78 L1214.22 400.73 M1234.17 362.66 L1233.98 363.00 L1233.79 363.32 L1233.58 363.65 L1233.37 363.97 L1233.16 364.29 L1232.93 364.60 L1232.70 364.91 L1232.45 365.22 L1232.20 365.53 L1231.95 365.83 L1231.68 366.12 L1231.41 366.42 L1231.13 366.70 L1230.85 366.99 L1230.56 367.27 L1230.26 367.54 L1229.95 367.82 L1229.64 368.08 L1229.32 368.34 L1228.99 368.60 L1228.66 368.85 L1228.32 369.10 L1227.98 369.34 L1227.63 369.58 M1218.48 337.02 L1218.51 337.15 L1218.54 337.29 L1218.57 337.42 L1218.59 337.56 L1218.62 337.69 L1218.64 337.83 L1218.66 337.96 L1218.68 338.10 L1218.70 338.23 L1218.72 338.37 L1218.74 338.51 L1218.75 338.64 L1218.77 338.78 L1218.78 338.92 L1218.79 339.05 L1218.80 339.19 L1218.81 339.33 L1218.81 339.46 L1218.82 339.60 L1218.82 339.73 L1218.83 339.87 L1218.83 340.01 L1218.83 340.14 L1218.82 340.28 M1176.72 333.21 L1176.83 333.02 L1176.94 332.84 L1177.05 332.65 L1177.17 332.47 L1177.29 332.28 L1177.41 332.10 L1177.54 331.92 L1177.66 331.74 L1177.79 331.56 L1177.93 331.38 L1178.06 331.21 L1178.20 331.03 L1178.34 330.86 L1178.49 330.69 L1178.64 330.52 L1178.78 330.35 L1178.94 330.18 L1179.09 330.01 L1179.25 329.85 L1179.41 329.69 L1179.57 329.52 L1179.73 329.36 L1179.90 329.20 L1180.07 329.05 M1145.39 335.19 L1145.44 335.04 L1145.48 334.88 L1145.53 334.73 L1145.58 334.57 L1145.64 334.42 L1145.69 334.27 L1145.75 334.12 L1145.81 333.96 L1145.87 333.81 L1145.93 333.66 L1145.99 333.51 L1146.06 333.36 L1146.13 333.21 L1146.20 333.06 L1146.27 332.91 L1146.35 332.76 L1146.42 332.62 L1146.50 332.47 L1146.58 332.32 L1146.67 332.18 L1146.75 332.03 L1146.84 331.89 L1146.93 331.75 L1147.02 331.60 M1108.63 336.41 L1108.89 336.54 L1109.16 336.66 L1109.42 336.79 L1109.68 336.91 L1109.94 337.05 L1110.19 337.18 L1110.45 337.31 L1110.70 337.45 L1110.95 337.59 L1111.20 337.73 L1111.45 337.87 L1111.70 338.02 L1111.94 338.16 L1112.18 338.31 L1112.42 338.46 L1112.66 338.61 L1112.90 338.77 L1113.13 338.92 L1113.37 339.08 L1113.60 339.24 L1113.83 339.40 L1114.05 339.56 L1114.28 339.73 L1114.50 339.90 M1064.04 363.79 L1063.98 363.64 L1063.92 363.49 L1063.87 363.34 L1063.82 363.19 L1063.76 363.04 L1063.71 362.88 L1063.66 362.73 L1063.61 362.58 L1063.57 362.43 L1063.52 362.28 L1063.48 362.12 L1063.43 361.97 L1063.39 361.82 L1063.35 361.67 L1063.31 361.51 L1063.27 361.36 L1063.24 361.20 L1063.20 361.05 L1063.17 360.90 L1063.13 360.74 L1063.10 360.59 L1063.07 360.43 L1063.04 360.28 L1063.01 360.12" fill="none" stroke="#f4b183" stroke-width="2" stroke-linecap="round"/>
<text x="1147.2" y="387.1" font-size="26" fill="#000" text-anchor="middle" class="b">智能化</text>
</svg></body></html>
